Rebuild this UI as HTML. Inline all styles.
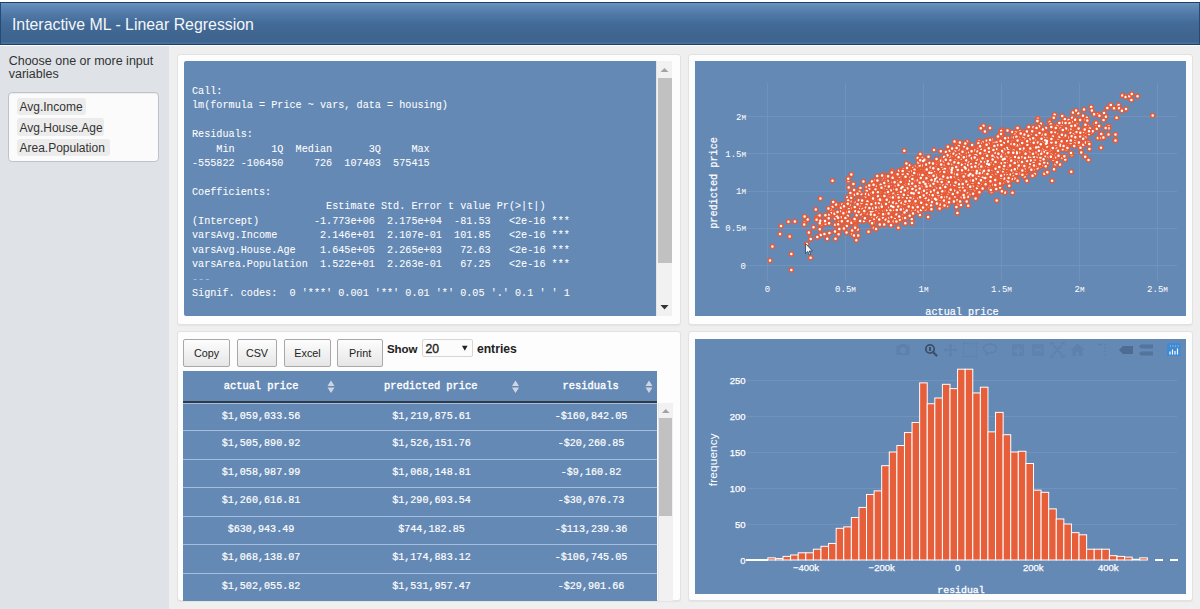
<!DOCTYPE html>
<html><head><meta charset="utf-8">
<style>
*{box-sizing:border-box;margin:0;padding:0}
html,body{width:1200px;height:609px;overflow:hidden;background:#efefef;font-family:"Liberation Sans",sans-serif}
.abs{position:absolute}
#topwhite{left:0;top:0;width:1200px;height:46px;background:#fff}
#hdr{left:0;top:2px;width:1200px;height:43px;border:1px solid #254a73;border-top-color:#1f3d63;border-bottom-color:#1c3f66;
 background:linear-gradient(#6b94c3 0px,#6089b6 3px,#5179a7 11px,#446c99 20px,#3f6591 30px,#3d638e 39px,#4a72a0 40px)}
#title{left:11.9px;top:15.6px;color:#f4f6f9;font-size:15.88px;white-space:nowrap;line-height:18px}
#side{left:0;top:46px;width:169px;height:563px;background:#dfe3e7}
#lbl{left:8.7px;top:55.1px;width:158px;font-size:12.5px;line-height:12.6px;color:#333}
#sel{left:8.3px;top:92.2px;width:151px;height:70px;background:#fbfbfb;border:1px solid #bfc3c8;border-radius:4px;box-shadow:inset 0 1px 1px rgba(0,0,0,.06)}
.pill{background:#ececec;border-radius:3px;font-size:12px;color:#333;height:17.3px;line-height:17.3px;padding-top:1.3px;padding-left:2.4px;white-space:nowrap}
.panel{background:#fdfdfd;border:1px solid #e2e2e2;border-radius:3px;box-shadow:0 1px 1px rgba(0,0,0,.05)}
#pre{left:183.6px;top:61px;width:472.4px;border-radius:2px 0 0 2px;height:255px;background:#6589b5;overflow:hidden}
#pretext{left:8.4px;top:9.5px;-webkit-text-stroke:.05px #fff;font-family:"Liberation Mono",monospace;font-size:10.16px;line-height:14.43px;color:#fff;white-space:pre}
.sb{background:#f1f1f1;border-left:1px solid #e6e6e6}
.thumb{background:#c1c1c1}
.plot{background:#6589b5;overflow:hidden}
.mono{font-family:"Liberation Mono",monospace}
.btn{height:28px;border:1px solid #a8a8a8;border-radius:2px;background:linear-gradient(#fdfdfd,#e6e6e6);font-size:10.8px;color:#222;text-align:center;line-height:27px}
.th{color:#fff;font-family:"Liberation Mono",monospace;font-size:10.4px;-webkit-text-stroke:.4px #fff;white-space:nowrap}
.row{left:183px;width:474px;height:28.5px;background:#6589b5;border-top:1px solid #a5c0df}
.cell{color:#fff;-webkit-text-stroke:.2px #fff;font-family:"Liberation Mono",monospace;font-size:10.1px;white-space:nowrap;top:8px;transform:translateX(-50%)}
</style></head><body>
<div id="topwhite" class="abs"></div>
<div id="hdr" class="abs"></div>
<div id="title" class="abs">Interactive ML - Linear Regression</div>
<div id="side" class="abs"></div>
<div id="lbl" class="abs">Choose one or more input variables</div>
<div id="sel" class="abs"></div>
<div class="abs pill" style="left:17.1px;top:97.8px;width:68.6px">Avg.Income</div>
<div class="abs pill" style="left:17.1px;top:118.4px;width:86.7px">Avg.House.Age</div>
<div class="abs pill" style="left:17.1px;top:139px;width:92.6px">Area.Population</div>

<!-- panels -->
<div class="abs panel" style="left:176.5px;top:53.8px;width:504px;height:271.2px"></div>
<div class="abs panel" style="left:688px;top:53.8px;width:505px;height:271.2px"></div>
<div class="abs panel" style="left:176.5px;top:331.4px;width:504px;height:269.8px"></div>
<div class="abs panel" style="left:688px;top:331.4px;width:505px;height:269.8px"></div>

<!-- summary pre -->
<div id="pre" class="abs"><div id="pretext" class="abs">
Call:
lm(formula = Price ~ vars, data = housing)

Residuals:
    Min      1Q  Median      3Q     Max 
-555822 -106450     726  107403  575415 

Coefficients:
                      Estimate Std. Error t value Pr(&gt;|t|)    
(Intercept)         -1.773e+06  2.175e+04  -81.53   &lt;2e-16 ***
varsAvg.Income       2.146e+01  2.107e-01  101.85   &lt;2e-16 ***
varsAvg.House.Age    1.645e+05  2.265e+03   72.63   &lt;2e-16 ***
varsArea.Population  1.522e+01  2.263e-01   67.25   &lt;2e-16 ***
<span style="opacity:.45">---</span>
Signif. codes:  0 '***' 0.001 '**' 0.01 '*' 0.05 '.' 0.1 ' ' 1
</div></div>
<div class="abs sb" style="left:656px;top:61px;width:16px;height:255px"></div>
<div class="abs thumb" style="left:658px;top:78px;width:13.5px;height:185px"></div>
<svg class="abs" style="left:656px;top:61px" width="16" height="255"><path d="M4.5 11h8l-4-4z" fill="#a3a3a3"/><path d="M4.5 244h8l-4 4.5z" fill="#333"/></svg>

<!-- scatter -->
<div class="abs plot" style="left:695px;top:61px;width:491px;height:255px"></div>
<svg class="abs" style="left:0;top:0" width="1200" height="609">
 <g stroke="#7192bb" stroke-width="1" fill="none" shape-rendering="crispEdges">
  <path d="M767.5 82.5V281M845.5 82.5V281M923.5 82.5V281M1001.5 82.5V281M1079.5 82.5V281M1157.5 82.5V281"/>
  <path d="M746 265.5H1177M746 228.5H1177M746 191H1177M746 153.5H1177M746 116.5H1177"/>
 </g>
 <defs><path id="c0" d="M959.8 161.7h0M970.9 176.1h0M964.6 171.4h0M935.4 188.2h0M934.4 167.4h0M990.3 171.9h0M1062.7 149.3h0M867.7 198.0h0M958.0 164.4h0M968.0 162.1h0M991.7 166.0h0M924.9 191.0h0M940.9 170.0h0M943.5 172.6h0M936.9 168.2h0M1087.1 130.3h0M1053.3 160.1h0M880.8 195.8h0M944.8 191.6h0M1057.6 149.8h0M971.2 166.9h0M983.1 164.7h0M975.5 157.7h0M839.0 223.9h0M907.0 192.4h0M1050.3 149.9h0M978.0 173.7h0M976.7 164.4h0M888.7 192.3h0M944.5 186.1h0M875.1 202.8h0M1055.3 154.0h0M1075.3 129.9h0M898.9 188.5h0M918.2 200.9h0M1016.9 147.1h0M944.2 183.4h0M1041.1 164.2h0M950.2 189.4h0M989.8 169.2h0M936.0 185.4h0M927.1 180.9h0M927.1 179.4h0M1011.3 153.0h0M1026.7 158.0h0M1012.0 163.8h0M947.6 173.6h0M935.6 170.9h0M981.8 177.8h0M944.3 165.1h0M916.4 203.3h0M963.9 147.3h0M1001.5 163.1h0M1000.2 161.0h0M985.1 184.9h0M906.9 195.5h0M971.8 170.2h0M979.6 153.6h0M927.1 189.9h0M945.4 184.6h0M919.7 184.9h0M938.7 191.0h0M903.0 185.8h0M990.3 168.2h0M916.5 199.9h0M1013.7 165.8h0M958.7 204.3h0M987.0 173.7h0M989.8 163.4h0M996.5 150.4h0M873.8 195.8h0M898.8 206.8h0M960.3 181.9h0M968.8 149.8h0M956.0 194.2h0M970.8 168.9h0M966.9 169.2h0M891.1 183.8h0M970.1 153.5h0M954.0 163.0h0M1060.0 164.6h0M1040.3 166.6h0M952.3 155.1h0M930.4 169.4h0"/><path id="c1" d="M976.1 161.7h0M934.2 183.5h0M927.1 208.4h0M931.7 196.6h0M1000.6 179.6h0M956.5 175.8h0M992.3 149.8h0M938.6 189.1h0M968.5 162.1h0M951.0 177.7h0M956.7 182.2h0M935.5 202.0h0M832.5 206.9h0M923.0 194.5h0M967.9 165.5h0M1071.1 137.4h0M852.1 234.2h0M863.4 181.5h0M947.2 170.2h0M977.2 164.5h0M930.5 185.0h0M920.9 177.9h0M973.9 180.0h0M1103.6 119.9h0M965.3 180.5h0M987.6 171.0h0M909.7 185.1h0M909.5 177.4h0M937.1 165.2h0M903.4 187.6h0M1061.3 125.3h0M953.8 182.9h0M911.1 183.0h0M959.9 183.2h0M965.3 178.8h0M988.2 181.2h0M906.3 189.5h0M1085.2 125.9h0M922.9 179.5h0M950.3 176.8h0M976.5 169.4h0M914.2 202.6h0M998.8 159.0h0M918.7 204.5h0M903.1 201.4h0M902.5 187.3h0M903.5 203.6h0M869.1 220.3h0M931.7 188.7h0M934.3 194.1h0M897.2 176.4h0M985.9 160.9h0M947.7 179.2h0M1005.7 159.5h0M908.1 183.5h0M909.1 198.0h0M937.6 182.8h0M998.9 179.7h0M845.5 220.8h0M968.7 165.3h0M957.7 179.6h0M872.8 210.2h0M1006.1 167.1h0M930.3 197.9h0M1011.1 153.6h0M945.3 183.8h0M954.2 161.1h0M958.6 190.8h0M959.0 172.9h0M1015.6 161.8h0M1014.0 144.3h0M980.9 170.7h0M969.2 171.4h0M998.1 160.1h0M1018.5 148.7h0M860.1 213.4h0M1084.8 134.8h0M999.8 173.9h0M1024.5 176.4h0M882.3 196.4h0M939.6 177.5h0M950.5 167.2h0M961.0 176.7h0M999.9 149.8h0"/><path id="c2" d="M944.6 174.4h0M966.7 168.2h0M953.2 161.0h0M994.4 175.3h0M955.2 173.6h0M927.8 164.2h0M962.8 163.9h0M1013.9 142.4h0M962.4 159.6h0M936.3 172.9h0M976.7 184.8h0M1026.4 150.6h0M1026.7 133.8h0M989.4 158.4h0M949.5 173.7h0M947.6 175.8h0M906.3 196.3h0M901.0 200.7h0M968.8 179.7h0M959.9 201.1h0M939.4 179.5h0M1003.2 163.5h0M881.9 195.3h0M897.6 198.5h0M984.7 177.5h0M1058.2 157.0h0M955.9 163.6h0M966.6 165.2h0M941.8 186.8h0M1025.2 156.7h0M912.3 184.3h0M1014.0 153.8h0M997.9 169.6h0M999.0 148.9h0M902.4 207.9h0M943.4 183.3h0M856.8 208.4h0M1013.7 166.6h0M937.6 187.6h0M881.8 203.3h0M918.3 197.3h0M918.1 198.8h0M931.6 188.5h0M940.2 176.0h0M883.0 190.9h0M975.4 186.0h0M961.9 162.2h0M919.5 208.0h0M918.9 186.7h0M851.7 200.0h0M926.2 208.0h0M994.7 166.4h0M962.5 178.4h0M972.4 176.2h0M879.6 195.8h0M947.1 205.9h0M965.1 167.4h0M898.0 206.9h0M909.2 195.1h0M945.4 179.9h0M879.7 216.6h0M987.3 166.4h0M872.2 208.3h0M867.4 209.7h0M905.5 179.1h0M990.7 175.3h0M929.5 190.1h0M902.9 196.9h0M895.0 198.4h0M937.8 188.6h0M969.1 179.6h0M987.3 155.4h0M928.6 188.4h0M1005.0 163.6h0M941.5 183.5h0M937.2 173.7h0M961.0 169.5h0M900.6 180.3h0M910.9 203.8h0M903.5 183.1h0M825.6 223.8h0M938.7 184.2h0M960.9 205.0h0M920.2 202.6h0"/><path id="c3" d="M910.6 193.4h0M894.3 216.0h0M849.7 223.1h0M943.1 174.9h0M964.2 173.6h0M924.7 197.8h0M866.8 213.1h0M890.8 202.6h0M1064.8 119.2h0M939.1 200.8h0M866.2 208.8h0M1083.0 115.8h0M973.6 165.5h0M909.0 196.0h0M862.0 209.2h0M1000.5 181.2h0M996.3 169.0h0M847.3 197.6h0M974.6 148.5h0M1017.8 159.4h0M863.8 209.8h0M932.9 186.7h0M1038.5 140.3h0M1012.4 145.2h0M881.5 193.0h0M1003.6 148.0h0M1029.3 149.6h0M982.3 165.4h0M931.3 174.0h0M1054.7 141.5h0M973.3 174.6h0M954.7 186.8h0M904.5 194.6h0M986.1 148.5h0M917.7 201.2h0M964.0 167.8h0M938.7 161.1h0M1015.5 151.8h0M1001.0 159.6h0M886.2 179.6h0M958.2 174.0h0M954.3 168.5h0M861.2 212.6h0M1017.9 162.6h0M1038.2 149.0h0M932.3 173.6h0M1063.4 130.0h0M919.0 167.2h0M1000.9 149.4h0M1007.3 155.5h0M953.7 159.9h0M1024.7 133.5h0M942.9 169.3h0M971.2 174.8h0M924.7 180.2h0M921.2 168.2h0M914.2 187.1h0M924.2 179.0h0M860.4 213.5h0M936.1 194.5h0M962.5 172.7h0M1010.7 156.4h0M935.5 196.9h0M994.0 175.3h0M861.7 206.0h0M922.0 201.3h0M1049.5 150.7h0M907.6 193.4h0M989.1 165.8h0M962.4 161.5h0M1013.8 168.6h0M950.7 184.7h0M956.4 166.5h0M881.8 192.2h0M936.4 161.0h0M1045.6 144.4h0M985.2 163.8h0M883.1 175.3h0M992.7 158.7h0M1011.0 171.3h0M939.6 166.8h0M965.9 175.3h0M963.3 165.3h0M984.0 168.8h0"/><path id="c4" d="M934.7 188.1h0M927.8 175.9h0M897.4 219.1h0M951.4 165.2h0M943.7 200.6h0M1047.9 135.4h0M981.1 179.7h0M1018.7 164.2h0M902.5 203.7h0M905.9 200.9h0M939.6 174.5h0M1069.8 135.7h0M1020.9 145.1h0M845.3 226.8h0M934.2 179.2h0M966.4 160.4h0M1003.2 162.1h0M906.4 186.0h0M947.9 175.7h0M1094.8 123.4h0M910.7 200.3h0M908.9 196.6h0M1059.2 144.6h0M1027.7 156.4h0M914.9 175.3h0M1041.7 144.2h0M1013.0 173.7h0M918.5 209.8h0M965.2 171.5h0M920.9 185.7h0M970.7 178.3h0M946.1 161.4h0M1059.8 138.9h0M1060.4 128.3h0M981.0 161.4h0M961.3 163.9h0M921.8 180.2h0M882.1 185.6h0M995.3 181.1h0M982.1 172.5h0M991.7 157.2h0M879.7 221.3h0M1071.6 154.9h0M981.2 169.7h0M1040.9 123.7h0M913.0 179.9h0M922.5 200.6h0M1008.4 154.9h0M866.3 207.4h0M893.1 186.4h0M999.0 176.1h0M983.7 174.5h0M898.7 187.0h0M995.7 158.6h0M1023.5 143.2h0M936.1 191.9h0M1044.2 153.4h0M983.5 163.8h0M983.8 164.1h0M921.6 186.2h0M966.5 175.6h0M1075.1 135.8h0M1024.6 156.1h0M921.1 183.7h0M904.0 209.6h0M932.1 189.5h0M1018.4 139.1h0M934.0 185.0h0M980.8 148.9h0M881.5 198.0h0M848.9 206.4h0M961.2 178.1h0M947.0 178.9h0M951.5 171.0h0M1079.7 145.3h0M1076.8 130.4h0M854.8 194.8h0M948.7 172.6h0M940.6 165.7h0M869.5 193.4h0M973.4 153.5h0M929.9 186.6h0M915.4 181.2h0M1043.9 140.6h0"/><path id="c5" d="M905.1 195.1h0M948.9 173.7h0M979.7 178.0h0M960.9 189.0h0M1023.3 145.8h0M987.6 161.7h0M852.5 209.8h0M978.3 153.5h0M873.9 191.0h0M944.8 163.0h0M926.7 190.7h0M963.2 168.9h0M1068.7 120.1h0M939.3 195.2h0M1003.7 146.2h0M965.3 161.7h0M1000.3 166.2h0M1047.3 142.2h0M1022.3 161.4h0M1031.1 155.9h0M958.6 152.1h0M969.5 178.4h0M961.3 184.6h0M1013.8 164.0h0M907.7 195.2h0M946.0 173.9h0M959.7 182.5h0M967.1 184.1h0M842.1 213.8h0M864.6 199.3h0M1037.4 153.2h0M1071.6 135.7h0M941.5 179.3h0M1035.3 154.7h0M929.2 195.5h0M909.2 175.8h0M986.9 179.7h0M953.2 170.9h0M1030.5 134.8h0M981.3 189.4h0M962.2 168.0h0M902.1 185.9h0M940.4 188.0h0M886.3 199.8h0M987.8 173.2h0M985.2 169.0h0M1023.9 131.7h0M936.2 164.4h0M925.6 175.4h0M928.4 181.5h0M994.0 161.3h0M967.7 172.8h0M1031.4 148.4h0M1010.5 151.0h0M1016.5 150.8h0M989.0 165.7h0M1078.2 113.3h0M1049.4 120.9h0M963.1 171.3h0M999.1 175.4h0M898.0 173.0h0M1054.6 139.4h0M915.3 191.2h0M979.4 167.5h0M868.0 208.9h0M1030.6 136.5h0M954.5 179.2h0M974.4 171.4h0M1000.0 168.6h0M976.5 154.3h0M868.6 203.2h0M1028.9 137.6h0M974.4 184.0h0M891.8 209.3h0M911.3 178.6h0M950.5 176.4h0M925.0 195.5h0M930.5 195.8h0M1088.5 126.8h0M1012.3 132.0h0M979.2 141.6h0M1018.6 171.7h0M1011.0 175.8h0M979.6 148.6h0"/><path id="c6" d="M963.0 172.3h0M1009.2 151.1h0M842.5 222.3h0M1024.5 133.1h0M958.5 174.2h0M963.4 174.6h0M882.1 205.2h0M902.2 194.9h0M904.0 180.1h0M929.3 164.7h0M912.1 189.8h0M971.7 181.1h0M960.9 177.0h0M877.2 175.9h0M990.3 186.8h0M1044.9 149.7h0M955.8 171.1h0M901.5 199.1h0M841.9 218.2h0M967.4 183.4h0M1008.6 178.4h0M1002.1 172.9h0M947.6 189.4h0M967.9 193.9h0M1000.8 155.9h0M999.2 159.5h0M962.5 163.5h0M1052.1 141.5h0M987.0 141.0h0M1024.2 159.7h0M934.6 176.4h0M942.7 175.9h0M956.5 185.0h0M930.0 201.8h0M934.9 194.2h0M1026.5 173.3h0M878.6 190.8h0M915.0 196.5h0M866.5 199.9h0M946.5 178.4h0M934.5 194.8h0M991.5 168.4h0M926.2 193.5h0M979.6 159.1h0M972.1 161.8h0M905.0 203.7h0M1035.6 161.1h0M916.2 186.1h0M1045.2 163.2h0M918.7 175.4h0M958.5 149.4h0M969.4 176.6h0M980.2 179.9h0M920.6 180.1h0M934.6 189.1h0M1055.1 154.3h0M938.2 186.1h0M909.0 171.5h0M1010.0 158.4h0M956.8 165.0h0M925.3 190.8h0M998.0 161.4h0M963.4 163.9h0M980.3 183.5h0M884.1 193.8h0M906.2 184.3h0M882.8 215.4h0M971.8 165.0h0M1101.2 133.4h0M1006.8 174.7h0M841.7 206.8h0M1006.5 141.5h0M1035.6 152.4h0M963.4 154.6h0M929.5 191.2h0M1057.3 134.0h0M919.0 186.5h0M896.5 203.7h0M980.9 162.4h0M973.1 161.8h0M961.8 164.6h0M1002.4 163.6h0M921.6 189.0h0M871.2 210.3h0"/><path id="c7" d="M1033.5 143.6h0M1022.8 163.8h0M1006.3 152.4h0M997.2 145.3h0M838.5 220.2h0M940.6 190.3h0M1006.8 140.0h0M932.1 177.2h0M886.2 198.7h0M964.7 169.7h0M835.5 238.7h0M1044.1 130.1h0M860.4 187.9h0M924.0 192.1h0M955.4 176.7h0M887.0 198.1h0M984.8 167.7h0M995.6 156.4h0M959.7 185.5h0M979.2 147.4h0M1014.2 153.0h0M924.8 192.4h0M870.5 196.2h0M895.7 208.3h0M1053.7 128.0h0M1108.7 126.3h0M953.3 179.4h0M977.9 160.8h0M881.5 224.3h0M1020.7 155.6h0M1015.2 135.4h0M889.4 209.3h0M1010.6 166.1h0M954.8 180.9h0M1051.6 146.8h0M883.4 200.7h0M1038.5 163.0h0M927.4 186.1h0M938.0 182.8h0M895.2 196.8h0M899.9 218.4h0M955.8 185.8h0M978.3 150.9h0M949.6 169.9h0M968.8 170.6h0M1064.4 144.2h0M1042.2 156.4h0M885.9 182.6h0M810.6 257.8h0M999.7 149.3h0M1011.1 179.9h0M1034.1 151.5h0M1096.1 122.8h0M986.8 154.2h0M1026.0 148.0h0M861.7 202.6h0M981.7 156.4h0M872.7 196.6h0M979.3 167.8h0M966.5 167.2h0M912.5 168.9h0M946.6 183.6h0M933.3 197.3h0M1026.0 171.6h0M1022.0 169.5h0M860.5 207.2h0M916.2 203.7h0M959.9 184.8h0M999.8 164.9h0M929.1 181.6h0M911.4 183.2h0M881.5 206.5h0M977.0 169.0h0M919.8 189.6h0M958.9 162.5h0M927.5 197.5h0M955.2 183.4h0M936.9 184.5h0M949.7 170.8h0M949.6 192.8h0M912.7 179.7h0M1026.8 180.7h0M1016.7 155.3h0M966.9 169.3h0"/><path id="c8" d="M932.6 178.4h0M886.8 206.8h0M863.5 216.2h0M980.8 171.3h0M921.6 194.9h0M898.6 189.8h0M998.6 177.5h0M934.4 187.2h0M1000.8 157.7h0M893.4 197.4h0M941.3 182.6h0M952.8 185.0h0M910.5 171.3h0M980.2 167.6h0M910.8 194.8h0M1017.8 151.0h0M995.7 168.2h0M884.2 215.0h0M920.3 182.1h0M993.7 146.7h0M955.3 170.5h0M977.9 185.7h0M1008.3 149.7h0M994.2 155.3h0M1006.6 168.3h0M892.3 205.6h0M926.9 194.2h0M923.7 197.6h0M923.3 194.0h0M1004.9 157.0h0M918.8 199.9h0M920.4 197.7h0M1028.8 145.8h0M889.1 196.4h0M1007.0 150.0h0M1024.2 145.1h0M974.7 168.6h0M1012.9 161.3h0M936.9 178.4h0M880.3 200.0h0M968.9 172.1h0M980.8 165.1h0M873.8 192.3h0M914.6 170.8h0M921.8 194.7h0M927.5 204.4h0M914.4 192.7h0M894.9 202.5h0M921.5 190.7h0M955.9 165.5h0M964.2 187.3h0M1004.7 150.8h0M918.1 201.5h0M1104.0 113.0h0M941.8 167.0h0M958.7 190.4h0M946.8 159.0h0M1013.2 149.0h0M924.7 184.1h0M906.2 203.1h0M1009.7 142.6h0M931.0 202.1h0M832.5 180.8h0M1017.2 160.8h0M948.7 194.4h0M982.1 166.8h0M991.6 163.2h0M951.3 167.4h0M983.1 160.4h0M1021.4 159.6h0M1017.1 163.3h0M958.1 183.2h0M866.0 214.8h0M1031.4 169.1h0M898.3 204.9h0M911.8 171.8h0M976.0 153.2h0M901.6 206.8h0M938.7 173.7h0M987.1 163.6h0M1040.6 158.0h0M991.7 167.3h0M854.0 235.4h0M1017.3 141.1h0"/><path id="c9" d="M925.5 188.8h0M915.9 195.2h0M1001.4 156.9h0M928.7 189.6h0M851.3 174.5h0M956.0 180.6h0M951.4 197.3h0M957.0 200.2h0M1004.9 192.6h0M972.7 184.0h0M1009.1 159.1h0M905.9 183.2h0M893.2 187.6h0M976.9 175.8h0M994.5 165.6h0M957.0 157.1h0M955.4 180.1h0M976.2 183.1h0M967.0 154.3h0M926.0 187.6h0M949.3 175.8h0M954.5 172.1h0M1108.5 134.4h0M920.3 154.0h0M940.5 184.8h0M1024.5 161.5h0M1069.1 139.0h0M956.0 182.3h0M937.0 201.9h0M1023.4 152.2h0M1021.5 154.0h0M942.2 189.1h0M898.5 191.5h0M973.4 160.9h0M1003.9 163.6h0M1012.2 143.5h0M946.0 192.8h0M915.4 202.6h0M969.2 168.5h0M941.6 198.7h0M978.7 175.9h0M855.7 202.8h0M885.2 213.5h0M983.6 164.4h0M1044.4 131.7h0M1069.3 123.0h0M1070.7 129.0h0M956.0 169.9h0M997.6 156.4h0M960.5 189.1h0M1009.0 143.0h0M904.5 185.9h0M952.1 174.4h0M954.8 194.8h0M1043.0 147.3h0M962.0 172.2h0M1029.2 157.6h0M1043.6 165.6h0M978.8 151.2h0M925.5 183.6h0M820.5 227.7h0M943.5 170.6h0M976.7 170.2h0M928.0 177.9h0M971.7 168.0h0M896.8 214.0h0M920.0 177.6h0M994.4 181.5h0M1045.7 141.4h0M845.5 215.5h0M990.9 160.0h0M964.3 165.9h0M903.8 177.8h0M985.2 149.8h0M840.3 205.2h0M833.2 211.7h0M915.6 167.8h0M960.4 186.8h0M1015.5 136.1h0M983.7 165.8h0M921.5 185.1h0M915.9 198.2h0M901.2 185.3h0M944.3 199.1h0"/><path id="c10" d="M986.7 164.3h0M995.3 159.3h0M913.1 200.2h0M883.6 200.3h0M930.5 204.0h0M1007.8 146.5h0M865.5 208.4h0M930.2 177.9h0M906.8 198.2h0M967.6 167.5h0M980.7 180.8h0M966.1 170.8h0M932.1 162.9h0M1047.1 143.4h0M927.8 206.5h0M1037.3 143.0h0M1016.3 147.6h0M942.1 171.3h0M971.8 171.7h0M901.4 178.2h0M913.9 200.0h0M1115.2 140.4h0M999.2 176.5h0M820.8 235.0h0M1040.4 160.2h0M1053.2 138.6h0M960.1 168.7h0M908.0 186.4h0M896.0 199.0h0M911.9 199.2h0M917.7 192.8h0M1078.4 131.9h0M940.6 203.9h0M968.0 173.7h0M988.8 168.7h0M954.6 157.7h0M920.6 196.7h0M952.5 189.5h0M934.8 168.1h0M879.5 189.7h0M945.5 175.2h0M916.5 195.3h0M932.2 175.1h0M937.4 186.6h0M996.0 160.8h0M899.4 193.7h0M966.1 165.8h0M947.8 161.1h0M868.8 208.5h0M867.2 195.7h0M882.4 197.7h0M924.7 193.4h0M1008.3 157.1h0M945.6 184.2h0M986.3 164.7h0M955.1 177.5h0M983.6 165.2h0M941.2 189.7h0M938.2 168.6h0M968.7 158.0h0M940.8 189.8h0M913.9 183.2h0M983.5 152.5h0M950.5 172.1h0M1023.5 164.0h0M935.5 174.8h0M1008.8 141.3h0M971.2 169.9h0M885.6 188.8h0M857.7 229.4h0M957.8 162.5h0M998.1 158.0h0M870.0 199.1h0M912.0 172.7h0M1014.6 160.1h0M1009.2 151.9h0M1052.2 143.3h0M955.8 177.3h0M994.7 154.6h0M1024.2 149.2h0M997.3 174.7h0M950.9 155.4h0M1014.3 150.3h0M770.0 260.5h0"/><path id="c11" d="M979.3 163.2h0M850.0 209.7h0M1002.6 135.1h0M1012.0 145.8h0M1033.1 160.1h0M938.1 167.7h0M939.2 180.9h0M914.1 204.4h0M883.1 179.8h0M951.9 168.1h0M926.6 204.5h0M984.6 176.6h0M964.1 163.2h0M948.7 180.4h0M895.3 187.1h0M970.0 169.8h0M835.3 204.3h0M956.4 191.8h0M909.5 179.7h0M962.6 158.1h0M981.8 168.8h0M920.7 164.7h0M1029.3 137.8h0M1115.5 134.4h0M876.3 189.4h0M982.9 165.4h0M895.7 192.9h0M975.0 190.3h0M884.2 202.0h0M950.4 158.5h0M939.7 189.5h0M971.1 173.7h0M882.9 199.1h0M1108.6 128.2h0M986.4 155.6h0M917.5 198.8h0M916.3 174.5h0M854.6 209.6h0M931.4 182.4h0M1009.2 159.1h0M917.3 171.7h0M929.1 186.8h0M931.1 181.5h0M873.2 208.2h0M987.6 174.2h0M993.1 170.8h0M945.7 179.8h0M1022.2 142.2h0M1102.8 137.7h0M954.9 175.1h0M873.0 208.7h0M977.9 169.1h0M946.2 184.7h0M921.6 188.3h0M934.8 195.1h0M949.4 167.7h0M964.0 181.4h0M837.8 218.3h0M993.2 169.3h0M904.3 216.2h0M868.3 190.4h0M944.6 189.3h0M898.7 183.2h0M888.6 199.0h0M1029.0 143.9h0M1009.9 153.1h0M979.6 169.7h0M976.1 164.7h0M896.8 210.3h0M883.2 189.6h0M966.9 175.5h0M946.1 185.6h0M913.5 179.9h0M955.6 161.2h0M913.3 198.2h0M935.9 174.5h0M898.2 187.7h0M998.2 162.3h0M897.3 207.8h0M935.2 184.0h0M942.3 169.0h0M1007.9 152.3h0M951.5 173.5h0M772.4 246.4h0"/><path id="c12" d="M965.5 190.2h0M934.2 181.0h0M966.9 165.5h0M1012.9 160.7h0M962.3 177.4h0M947.2 193.7h0M922.3 185.2h0M942.9 167.7h0M940.2 200.6h0M935.5 198.8h0M958.9 169.9h0M914.0 178.0h0M849.4 220.8h0M875.3 206.8h0M915.5 198.0h0M922.6 191.7h0M994.6 151.8h0M991.0 146.9h0M924.4 195.6h0M907.5 203.5h0M946.1 183.7h0M1035.9 130.3h0M989.5 182.1h0M998.7 158.0h0M1042.3 144.2h0M1001.8 142.5h0M932.7 176.3h0M1008.3 179.6h0M904.3 150.7h0M883.5 205.0h0M1064.1 135.3h0M1011.2 160.6h0M967.3 158.1h0M965.1 156.1h0M1039.9 142.6h0M947.2 182.8h0M897.5 201.4h0M951.0 172.0h0M1002.8 177.0h0M1023.2 154.6h0M989.6 147.7h0M961.5 165.7h0M963.7 176.9h0M898.5 187.8h0M980.4 170.6h0M893.6 205.7h0M947.0 163.9h0M925.0 190.8h0M817.2 217.0h0M878.4 213.6h0M1002.4 159.9h0M925.4 184.3h0M883.3 208.3h0M879.9 207.4h0M1003.5 146.9h0M940.9 191.9h0M947.4 167.1h0M1039.6 149.4h0M977.1 164.0h0M890.3 199.1h0M935.9 183.9h0M819.6 215.6h0M991.3 192.0h0M1052.1 180.7h0M931.9 197.0h0M914.6 201.6h0M975.8 174.3h0M976.7 177.6h0M939.0 178.5h0M933.0 181.0h0M1001.6 163.2h0M922.8 179.6h0M987.8 172.7h0M890.0 190.8h0M926.7 186.2h0M1085.3 119.5h0M932.1 166.7h0M932.0 175.6h0M969.2 175.2h0M944.7 172.6h0M892.1 209.3h0M937.3 183.3h0M922.7 198.1h0M791.3 270.0h0"/><path id="c13" d="M908.5 199.7h0M954.3 155.8h0M875.1 180.4h0M951.9 189.1h0M895.1 200.0h0M947.5 183.9h0M994.8 154.1h0M903.1 210.3h0M1036.3 154.6h0M990.1 157.8h0M1001.4 169.3h0M869.0 204.2h0M978.6 155.2h0M918.1 201.5h0M1039.4 149.8h0M975.0 185.4h0M902.7 184.7h0M1056.4 144.2h0M1003.3 155.3h0M956.3 144.8h0M993.1 174.9h0M956.8 163.3h0M905.4 191.1h0M1059.8 136.1h0M923.6 191.8h0M1030.2 159.4h0M1000.8 169.8h0M913.5 192.2h0M959.0 170.7h0M881.6 192.1h0M977.1 162.6h0M904.5 189.5h0M954.1 183.4h0M844.4 220.2h0M958.6 169.9h0M985.7 177.4h0M929.7 191.7h0M964.6 192.7h0M969.5 174.8h0M1115.5 140.5h0M1096.4 126.6h0M927.4 177.5h0M1021.5 148.8h0M1057.1 125.0h0M1017.4 144.3h0M885.8 192.8h0M992.8 158.8h0M1018.0 144.9h0M1038.8 126.3h0M976.6 160.5h0M883.1 209.8h0M939.0 185.2h0M907.4 198.8h0M1025.2 140.9h0M917.1 193.5h0M1015.0 162.5h0M966.6 175.4h0M948.8 192.5h0M905.3 196.0h0M941.6 162.7h0M1006.3 157.2h0M969.5 166.8h0M915.9 192.0h0M984.0 172.0h0M1032.9 170.7h0M1008.1 156.1h0M995.7 144.4h0M929.6 202.2h0M923.6 188.5h0M960.7 184.9h0M943.1 191.9h0M933.1 176.6h0M979.1 171.6h0M958.9 183.7h0M936.0 176.2h0M974.7 160.2h0M970.0 173.1h0M883.6 211.9h0M883.2 196.3h0M943.8 183.7h0M1036.1 150.2h0M946.3 169.6h0M980.4 174.9h0M791.3 254.0h0"/><path id="c14" d="M958.1 183.5h0M1028.9 136.3h0M1028.5 162.3h0M989.5 160.4h0M907.9 192.3h0M965.7 175.7h0M1084.0 109.6h0M888.7 218.6h0M804.4 222.7h0M868.0 199.3h0M807.7 219.4h0M880.6 198.6h0M876.5 198.3h0M909.1 206.7h0M971.8 175.4h0M1000.2 166.8h0M1012.5 192.7h0M970.4 167.0h0M978.9 141.2h0M965.0 182.2h0M1056.2 142.4h0M952.7 179.3h0M1033.3 159.2h0M909.5 199.0h0M806.6 244.0h0M922.8 192.2h0M996.0 165.3h0M947.9 175.5h0M992.2 143.7h0M1013.7 154.2h0M965.7 188.2h0M979.1 165.6h0M940.5 178.3h0M922.7 175.2h0M1061.9 130.1h0M1000.6 151.9h0M960.0 180.7h0M920.9 188.8h0M895.5 182.7h0M1008.1 154.0h0M943.0 168.9h0M1011.1 158.1h0M933.6 174.7h0M876.3 198.4h0M987.5 177.7h0M968.5 155.4h0M962.5 158.4h0M973.9 176.8h0M1045.5 146.7h0M979.9 182.5h0M943.1 178.0h0M907.1 191.7h0M965.2 149.9h0M963.0 164.8h0M908.2 199.0h0M934.1 185.0h0M904.6 204.2h0M1021.6 163.5h0M959.8 175.3h0M1025.8 169.3h0M925.0 188.9h0M958.1 174.2h0M904.4 176.5h0M1036.5 157.3h0M980.9 176.2h0M922.2 189.2h0M987.1 170.4h0M902.9 186.3h0M997.9 164.9h0M955.3 190.7h0M981.5 157.9h0M860.4 206.0h0M924.1 174.5h0M986.7 154.3h0M902.4 188.2h0M966.9 168.4h0M887.9 207.5h0M884.2 177.4h0M915.4 197.0h0M1061.4 136.7h0M819.8 229.2h0M927.4 192.8h0M902.1 200.1h0M781.0 226.0h0"/><path id="c15" d="M998.0 163.6h0M997.7 169.3h0M1039.1 140.1h0M1002.7 182.8h0M1022.0 165.1h0M872.0 216.6h0M971.6 174.0h0M957.0 171.6h0M988.7 158.1h0M985.0 160.8h0M952.8 181.1h0M996.3 156.9h0M976.1 164.1h0M892.6 204.7h0M1023.5 171.1h0M961.7 172.3h0M947.1 188.9h0M966.5 170.2h0M922.2 201.5h0M1088.6 133.5h0M957.9 179.2h0M999.4 167.9h0M891.7 216.9h0M1040.5 147.0h0M1105.7 128.0h0M982.7 178.1h0M951.9 179.8h0M1022.3 158.7h0M990.8 149.6h0M922.7 173.3h0M1083.2 144.8h0M996.7 145.9h0M922.0 203.0h0M965.9 162.6h0M907.3 203.0h0M975.5 183.8h0M949.9 181.3h0M920.0 182.7h0M1033.2 144.6h0M927.0 186.9h0M978.2 151.4h0M956.5 183.9h0M986.8 171.2h0M972.0 176.1h0M1000.7 146.1h0M997.0 175.1h0M950.0 147.4h0M959.4 189.9h0M1010.2 165.4h0M958.7 164.4h0M954.3 159.3h0M945.3 186.4h0M978.6 170.4h0M976.2 169.5h0M879.8 205.3h0M952.7 154.1h0M996.9 147.7h0M957.3 184.0h0M962.7 175.9h0M970.2 172.8h0M967.3 185.3h0M1101.0 147.8h0M960.1 201.4h0M942.1 184.2h0M959.9 157.9h0M1041.8 152.9h0M912.6 173.9h0M986.7 173.0h0M942.2 178.5h0M956.0 185.2h0M967.4 150.3h0M956.8 142.8h0M971.7 185.3h0M971.1 149.4h0M897.3 176.8h0M857.0 209.6h0M988.3 152.0h0M943.5 166.7h0M885.6 200.7h0M1009.6 164.3h0M911.3 194.7h0M1023.0 155.0h0M963.9 166.6h0M780.0 234.0h0"/><path id="c16" d="M885.7 201.8h0M941.7 187.2h0M956.1 185.8h0M1005.5 157.3h0M968.4 165.2h0M946.7 191.0h0M916.8 194.6h0M1008.3 153.2h0M900.5 175.7h0M973.1 182.3h0M989.6 157.3h0M917.9 188.3h0M953.7 174.5h0M983.7 162.8h0M933.3 187.6h0M986.6 167.6h0M910.7 193.4h0M906.1 186.5h0M1072.0 122.1h0M912.8 201.4h0M877.2 207.7h0M1008.9 144.6h0M948.1 177.3h0M1047.2 163.4h0M1046.6 134.6h0M910.8 175.6h0M921.8 187.3h0M931.7 208.9h0M904.9 197.4h0M1085.2 156.8h0M979.6 154.7h0M1058.9 143.6h0M938.4 172.5h0M890.5 212.1h0M945.6 176.8h0M1014.3 143.3h0M881.8 184.7h0M1063.6 139.2h0M1014.6 161.6h0M911.7 176.6h0M980.5 167.8h0M960.6 184.4h0M992.8 166.1h0M993.3 160.1h0M895.3 188.5h0M889.5 203.6h0M1030.4 148.5h0M849.1 205.3h0M947.5 187.7h0M1072.2 117.7h0M932.8 186.9h0M983.0 174.0h0M954.5 177.8h0M1061.3 138.7h0M973.9 178.3h0M959.7 189.7h0M920.4 177.5h0M939.0 169.8h0M942.7 186.7h0M1040.1 163.2h0M913.2 194.1h0M1001.5 173.9h0M922.2 178.4h0M846.8 225.9h0M984.0 176.1h0M1032.7 161.2h0M941.7 177.8h0M982.6 158.1h0M1055.5 164.3h0M999.5 145.8h0M839.3 229.1h0M925.3 170.4h0M915.5 184.4h0M850.5 201.1h0M965.3 162.6h0M1039.1 165.2h0M991.7 156.8h0M1041.9 135.8h0M883.9 204.3h0M906.3 189.9h0M982.1 160.7h0M1000.9 163.7h0M837.7 225.6h0M1122.3 95.5h0"/><path id="c17" d="M934.5 185.3h0M939.4 161.6h0M944.6 172.6h0M1010.4 144.3h0M962.3 178.7h0M912.6 188.9h0M895.2 215.3h0M875.5 201.1h0M1017.0 174.7h0M975.3 162.9h0M997.3 165.4h0M951.9 181.0h0M942.4 164.8h0M924.2 162.7h0M1011.4 177.1h0M931.0 182.4h0M980.3 164.4h0M991.8 165.7h0M1086.9 117.8h0M953.0 174.9h0M912.3 182.3h0M1029.5 149.4h0M975.0 171.8h0M1045.3 149.6h0M902.9 196.9h0M921.6 200.8h0M961.0 197.0h0M970.3 170.5h0M916.1 183.5h0M963.8 150.4h0M914.7 186.0h0M921.3 198.5h0M918.6 200.4h0M911.9 187.4h0M883.8 206.7h0M929.0 174.4h0M945.1 192.4h0M893.1 208.3h0M928.1 179.2h0M926.9 199.6h0M818.4 219.4h0M960.4 180.7h0M900.0 192.4h0M994.9 159.8h0M987.8 167.7h0M1024.9 171.0h0M919.9 214.9h0M888.7 182.5h0M979.4 145.7h0M988.8 169.9h0M934.7 180.6h0M1014.5 155.0h0M1015.0 145.1h0M1097.9 114.3h0M956.8 177.5h0M965.6 168.9h0M989.1 173.8h0M934.8 177.9h0M1009.0 172.5h0M952.4 177.7h0M1066.5 149.5h0M933.2 190.0h0M1085.9 142.6h0M1044.0 151.3h0M881.2 200.9h0M933.7 190.7h0M1088.5 128.8h0M947.6 170.0h0M1043.4 143.6h0M933.7 184.2h0M938.5 172.8h0M983.8 156.8h0M879.0 199.6h0M938.2 163.2h0M1088.5 159.9h0M936.5 178.7h0M940.8 181.8h0M1003.9 165.6h0M919.2 194.4h0M938.9 168.9h0M938.6 186.7h0M958.2 145.6h0M934.8 165.0h0M1125.6 97.1h0"/><path id="c18" d="M855.0 218.7h0M945.9 182.1h0M950.9 169.4h0M934.6 179.1h0M956.7 190.3h0M1008.4 160.3h0M956.6 172.5h0M959.9 187.6h0M900.3 193.5h0M980.8 183.8h0M1053.3 159.7h0M971.4 165.1h0M955.7 169.4h0M850.8 198.6h0M926.6 195.4h0M842.2 204.6h0M909.5 208.3h0M946.1 182.0h0M879.2 221.1h0M950.6 191.2h0M879.4 212.7h0M977.8 162.4h0M1008.3 142.6h0M958.5 165.2h0M969.0 176.2h0M924.9 177.6h0M864.9 208.6h0M902.1 208.2h0M909.0 172.8h0M924.4 188.6h0M1000.1 155.3h0M992.9 163.6h0M988.8 178.5h0M939.6 187.3h0M940.8 169.6h0M972.6 164.8h0M910.5 204.6h0M901.8 183.0h0M1005.5 158.8h0M949.9 177.1h0M966.5 163.8h0M998.7 154.5h0M972.3 180.3h0M892.2 196.3h0M1080.1 119.9h0M915.8 181.7h0M902.2 198.2h0M1000.5 151.2h0M910.3 191.1h0M992.5 152.9h0M1036.4 135.1h0M960.2 184.9h0M1014.4 151.1h0M910.8 193.9h0M955.4 161.7h0M950.3 184.1h0M966.8 159.2h0M1040.8 150.7h0M1054.0 169.3h0M942.6 206.3h0M1010.0 174.6h0M990.8 146.1h0M874.1 208.2h0M964.8 180.3h0M916.4 186.3h0M947.9 189.0h0M893.2 199.2h0M936.8 182.2h0M1002.1 158.8h0M890.1 201.3h0M1034.5 139.3h0M901.6 182.0h0M879.8 205.8h0M984.6 173.9h0M997.0 165.6h0M947.6 180.9h0M1062.1 122.8h0M921.7 166.4h0M903.0 184.3h0M918.4 192.5h0M999.6 157.5h0M947.0 176.8h0M923.9 181.1h0M1129.3 96.3h0"/><path id="c19" d="M888.7 190.2h0M1043.6 130.6h0M906.0 209.7h0M1043.1 137.7h0M961.8 182.6h0M917.3 206.7h0M950.0 167.9h0M923.9 176.2h0M944.0 169.8h0M923.7 169.6h0M1022.2 154.3h0M993.8 167.3h0M930.0 191.8h0M998.1 140.9h0M951.0 180.2h0M1009.3 152.3h0M909.4 174.4h0M1005.5 159.5h0M976.3 183.8h0M983.8 165.6h0M893.8 191.2h0M926.6 193.7h0M982.6 142.0h0M893.5 178.7h0M947.9 171.5h0M951.6 161.3h0M886.0 213.8h0M913.6 182.5h0M984.5 164.1h0M1003.6 173.5h0M894.6 201.8h0M976.4 152.9h0M1043.2 150.2h0M978.5 178.6h0M988.2 156.1h0M873.3 227.2h0M968.5 165.3h0M915.1 203.3h0M919.2 182.1h0M1013.0 167.4h0M920.8 188.5h0M933.7 177.2h0M907.8 189.6h0M942.0 187.8h0M931.1 165.5h0M966.9 170.1h0M1003.4 171.1h0M1036.7 162.4h0M1004.3 152.5h0M967.5 166.4h0M820.4 198.5h0M1073.9 131.2h0M977.5 156.6h0M1017.8 157.9h0M937.1 173.0h0M1014.7 152.4h0M1020.0 152.0h0M1038.7 150.8h0M939.4 178.9h0M883.0 217.7h0M1021.8 157.1h0M892.2 206.5h0M1000.4 158.4h0M967.0 141.8h0M953.7 187.2h0M913.9 184.7h0M933.6 179.8h0M1085.2 132.7h0M938.4 197.4h0M891.2 191.8h0M937.9 187.4h0M934.0 150.1h0M909.8 189.3h0M973.4 157.8h0M997.6 183.0h0M835.0 218.4h0M961.4 170.0h0M1009.1 160.5h0M986.4 168.6h0M958.2 166.2h0M952.8 186.9h0M983.2 188.0h0M989.4 188.8h0M1131.8 93.9h0"/><path id="c20" d="M858.3 204.7h0M936.1 164.0h0M1020.2 166.5h0M891.0 191.5h0M1004.0 163.7h0M991.5 169.6h0M896.3 198.2h0M905.9 208.4h0M876.7 216.5h0M945.4 177.4h0M976.9 172.1h0M941.2 179.6h0M926.0 180.0h0M953.6 170.7h0M1096.6 128.2h0M998.2 157.8h0M873.4 198.9h0M957.3 162.4h0M1097.9 138.1h0M1017.3 142.3h0M1031.6 157.0h0M930.1 172.7h0M981.0 169.8h0M949.9 179.9h0M965.3 186.4h0M967.9 173.3h0M1004.9 144.0h0M930.9 185.0h0M847.5 209.4h0M1058.9 140.0h0M1021.8 158.0h0M903.4 199.4h0M853.4 184.1h0M950.6 197.7h0M1039.6 159.3h0M1001.7 168.0h0M1062.4 157.9h0M1025.7 146.0h0M1021.7 171.9h0M993.4 159.5h0M1035.9 155.1h0M1021.5 150.8h0M1018.3 155.6h0M967.4 198.0h0M952.6 170.3h0M980.6 143.4h0M998.4 160.3h0M971.1 160.8h0M898.0 181.1h0M949.1 170.3h0M1008.4 164.0h0M955.5 177.3h0M961.2 186.6h0M994.0 152.7h0M1038.9 132.3h0M959.2 167.2h0M958.8 145.6h0M842.0 210.3h0M940.4 168.1h0M928.0 190.9h0M886.6 179.2h0M926.5 189.4h0M1014.1 177.1h0M962.7 165.7h0M993.3 151.2h0M970.7 166.8h0M1018.4 160.0h0M917.9 177.4h0M993.7 164.2h0M1076.0 135.5h0M951.8 180.7h0M904.1 180.3h0M1035.1 160.3h0M1020.4 143.1h0M873.6 206.5h0M1007.5 130.6h0M972.4 188.8h0M893.1 175.1h0M1001.3 171.5h0M969.2 180.0h0M933.3 166.3h0M1005.7 149.0h0M1007.9 138.1h0M1131.4 100.0h0"/><path id="c21" d="M946.7 196.6h0M943.0 185.6h0M929.8 197.0h0M1007.1 150.2h0M990.1 154.6h0M1043.6 140.4h0M966.1 158.9h0M1006.7 163.7h0M905.9 192.6h0M994.8 175.4h0M976.3 161.3h0M987.2 172.5h0M867.0 196.9h0M979.3 168.4h0M1001.9 159.1h0M967.9 163.6h0M958.2 180.9h0M1055.6 128.7h0M1002.9 148.1h0M932.7 180.2h0M972.2 165.2h0M987.8 174.2h0M917.8 177.4h0M838.4 218.1h0M878.0 201.3h0M985.2 158.0h0M932.6 166.3h0M1079.5 131.4h0M1027.9 146.0h0M986.5 140.6h0M1026.1 147.3h0M958.6 174.4h0M953.3 183.3h0M910.7 207.9h0M923.2 172.0h0M968.1 163.5h0M994.1 167.1h0M1075.4 118.9h0M947.7 189.1h0M992.1 176.2h0M945.7 187.8h0M985.0 151.5h0M984.8 173.0h0M1003.8 165.1h0M1008.8 156.0h0M992.4 164.5h0M1019.9 153.0h0M1001.7 152.7h0M944.6 167.2h0M1012.9 171.2h0M1086.1 128.4h0M1014.9 162.1h0M945.8 190.2h0M981.7 161.5h0M936.4 165.8h0M969.3 169.3h0M1016.0 137.1h0M908.1 198.8h0M835.9 225.3h0M1038.7 146.7h0M899.1 176.9h0M856.8 221.1h0M850.7 208.6h0M995.2 164.9h0M939.2 179.5h0M1023.0 149.8h0M950.9 184.9h0M947.7 174.3h0M1004.4 142.5h0M830.2 215.0h0M926.3 196.5h0M899.3 201.7h0M883.3 196.7h0M885.9 214.7h0M955.1 168.2h0M1011.0 177.0h0M904.0 187.9h0M1013.0 143.4h0M944.0 186.4h0M1084.1 135.9h0M1077.5 141.3h0M1001.7 129.9h0M912.6 187.4h0M1137.5 96.3h0"/><path id="c22" d="M889.9 197.1h0M979.1 170.5h0M956.9 191.7h0M986.9 163.5h0M971.6 164.8h0M942.4 193.4h0M896.3 195.0h0M931.2 192.5h0M1036.0 127.7h0M983.4 151.3h0M1003.0 164.7h0M910.7 207.1h0M958.1 182.8h0M965.5 186.8h0M932.1 184.5h0M963.5 170.3h0M987.1 162.6h0M850.5 195.5h0M971.9 174.0h0M914.5 191.6h0M876.0 201.3h0M991.7 162.8h0M888.7 186.9h0M866.0 201.0h0M922.2 180.5h0M879.8 224.6h0M980.9 148.8h0M937.2 174.8h0M933.0 199.8h0M892.7 191.2h0M928.1 190.6h0M945.2 183.3h0M936.7 196.0h0M1003.1 155.5h0M960.0 187.2h0M936.8 197.7h0M942.4 167.9h0M978.0 191.4h0M915.5 182.8h0M971.5 172.7h0M916.9 189.4h0M968.2 175.0h0M960.6 182.7h0M924.2 175.1h0M1012.4 137.4h0M860.7 211.8h0M900.6 207.0h0M937.2 186.7h0M1014.6 166.2h0M1020.3 147.0h0M961.0 179.5h0M987.0 169.9h0M990.0 127.9h0M986.1 149.9h0M919.9 196.7h0M956.9 172.2h0M908.9 197.0h0M1057.6 144.4h0M952.6 171.3h0M977.7 164.4h0M1019.2 155.4h0M1038.8 153.6h0M864.3 213.5h0M989.1 165.4h0M952.7 172.0h0M880.0 203.1h0M915.0 190.8h0M974.3 180.0h0M901.0 198.4h0M950.0 169.5h0M933.0 191.4h0M996.4 158.0h0M1025.4 165.1h0M985.4 183.0h0M891.3 211.2h0M923.2 184.9h0M864.6 205.5h0M936.0 191.0h0M895.3 194.2h0M856.6 210.2h0M946.2 166.4h0M943.1 189.9h0M1048.3 150.4h0M1152.7 115.6h0"/><path id="c23" d="M974.6 181.6h0M953.0 175.2h0M916.0 196.7h0M1007.8 167.4h0M902.3 197.1h0M926.6 195.5h0M1020.9 136.9h0M1042.2 150.9h0M1004.9 144.4h0M971.1 157.5h0M930.0 188.5h0M939.8 188.3h0M1061.3 145.1h0M994.5 162.4h0M955.0 151.5h0M1016.8 155.0h0M1016.0 158.6h0M943.4 174.7h0M948.2 179.0h0M869.3 186.5h0M995.7 159.5h0M1036.7 168.2h0M963.1 179.5h0M964.8 160.8h0M985.5 174.7h0M1071.3 141.5h0M1028.7 142.5h0M930.5 189.9h0M916.5 197.7h0M980.1 181.3h0M925.1 198.3h0M831.6 212.8h0M986.8 160.4h0M930.0 188.6h0M939.9 168.3h0M1023.7 155.8h0M870.2 204.4h0M920.2 185.5h0M939.1 184.6h0M996.1 165.6h0M947.7 185.8h0M962.0 177.9h0M885.9 195.6h0M895.6 193.3h0M994.1 147.1h0M1048.8 151.9h0M1019.2 166.6h0M939.2 208.4h0M898.3 184.0h0M888.0 196.4h0M958.6 181.2h0M932.2 184.7h0M1010.3 157.4h0M958.5 170.3h0M1028.3 145.9h0M904.5 189.5h0M993.3 165.8h0M939.5 199.3h0M935.7 186.5h0M1000.1 156.4h0M949.0 176.6h0M992.4 159.8h0M990.7 172.5h0M872.1 205.2h0M1013.1 175.6h0M1010.2 162.2h0M886.8 206.0h0M896.1 193.8h0M978.9 161.5h0M1040.0 144.0h0M1021.6 151.6h0M932.3 182.1h0M1030.0 164.2h0M920.8 194.5h0M999.0 173.6h0M961.6 159.2h0M922.1 164.7h0M999.5 164.9h0M1001.7 135.5h0M1014.3 141.0h0M949.7 152.5h0M983.5 125.8h0M927.1 183.3h0M1107.5 107.8h0"/><path id="c24" d="M968.3 152.2h0M948.8 187.2h0M925.2 196.2h0M1063.2 142.2h0M987.8 164.6h0M970.2 153.0h0M1018.2 151.0h0M916.7 179.0h0M937.6 175.5h0M876.3 209.2h0M957.5 165.3h0M903.3 198.5h0M1068.8 142.1h0M961.8 197.2h0M977.7 163.0h0M934.5 176.8h0M951.9 184.6h0M1008.2 159.4h0M929.9 175.4h0M908.7 200.6h0M1029.1 161.9h0M982.7 174.3h0M920.6 197.5h0M905.1 187.6h0M972.0 179.7h0M1024.9 171.0h0M996.5 167.5h0M928.7 175.5h0M978.4 164.4h0M1035.4 154.4h0M969.4 171.3h0M992.7 160.7h0M907.3 189.5h0M932.2 180.7h0M919.0 185.8h0M997.8 163.0h0M881.8 205.9h0M936.1 179.5h0M917.5 185.5h0M1039.4 149.1h0M968.9 163.6h0M988.3 169.1h0M966.1 163.0h0M1014.9 178.8h0M870.6 213.5h0M990.6 154.9h0M986.2 168.1h0M923.2 175.2h0M939.6 171.5h0M1017.8 146.4h0M999.7 164.8h0M804.2 224.4h0M963.0 175.9h0M1047.3 136.7h0M1038.0 131.8h0M914.0 195.5h0M947.4 187.6h0M884.8 192.0h0M840.7 211.0h0M998.5 149.1h0M945.5 173.6h0M895.0 219.1h0M933.2 175.5h0M1019.5 152.6h0M1037.4 168.2h0M886.8 176.1h0M989.2 161.2h0M966.1 166.2h0M998.6 164.0h0M986.3 155.9h0M944.9 171.9h0M982.3 172.4h0M947.0 162.6h0M967.3 170.2h0M943.9 177.2h0M978.1 156.5h0M939.2 180.2h0M991.5 141.7h0M845.3 208.4h0M981.6 174.5h0M898.7 221.2h0M1006.2 158.7h0M846.5 232.4h0M1110.8 105.0h0"/><path id="c25" d="M949.4 182.5h0M898.3 205.3h0M889.3 213.6h0M1041.4 147.7h0M922.0 184.3h0M959.6 159.5h0M1019.4 166.0h0M981.0 174.1h0M911.8 219.3h0M989.3 139.7h0M1009.6 144.5h0M1022.0 153.2h0M1032.5 156.7h0M1027.8 154.6h0M1026.3 165.2h0M920.8 205.9h0M1017.4 148.6h0M940.4 198.5h0M948.0 175.9h0M989.2 152.9h0M939.9 189.4h0M1018.1 149.7h0M887.7 180.9h0M950.6 186.1h0M1025.7 149.9h0M1000.6 158.9h0M960.9 163.4h0M950.6 163.6h0M1016.6 149.3h0M932.5 168.8h0M960.5 164.3h0M989.4 173.5h0M951.6 159.1h0M883.7 211.4h0M894.2 205.9h0M804.6 216.4h0M866.8 213.4h0M1018.3 153.1h0M970.3 150.4h0M901.1 200.4h0M928.9 189.0h0M1015.6 135.8h0M917.5 184.9h0M1020.6 153.8h0M987.3 167.1h0M936.3 199.2h0M1056.8 143.9h0M1013.4 146.5h0M968.7 165.7h0M988.0 164.4h0M1060.4 147.1h0M951.1 178.9h0M984.5 163.9h0M993.6 168.4h0M978.4 143.2h0M901.9 195.6h0M970.4 169.2h0M959.9 163.9h0M975.6 177.7h0M959.2 167.1h0M978.1 153.3h0M956.4 207.1h0M980.8 128.3h0M930.6 188.9h0M1001.9 191.3h0M912.3 211.1h0M1015.9 154.8h0M1058.7 139.2h0M971.6 179.5h0M914.0 202.7h0M903.4 191.5h0M896.1 192.1h0M954.3 183.1h0M978.9 162.2h0M958.6 177.1h0M1009.6 142.9h0M931.8 184.8h0M941.8 167.9h0M850.4 192.9h0M918.7 173.2h0M917.2 198.7h0M1001.8 148.0h0M828.6 215.1h0M1114.0 108.2h0"/><path id="c26" d="M821.1 224.6h0M959.1 178.6h0M1028.9 149.8h0M896.6 181.2h0M1019.9 131.4h0M905.0 210.5h0M933.6 190.0h0M947.2 172.1h0M855.4 210.4h0M1024.1 163.9h0M1067.5 129.8h0M958.2 161.5h0M998.6 157.3h0M983.1 148.0h0M932.8 189.6h0M949.3 163.2h0M960.7 178.2h0M916.1 180.7h0M929.4 180.9h0M962.2 176.1h0M922.5 196.1h0M1043.2 151.9h0M890.0 202.1h0M953.7 172.8h0M964.1 174.3h0M939.5 181.1h0M1080.2 136.4h0M995.8 157.9h0M978.6 178.2h0M917.1 204.3h0M905.9 203.9h0M935.5 185.1h0M902.4 207.5h0M916.4 192.4h0M963.0 185.6h0M961.9 170.7h0M999.7 171.4h0M909.5 200.3h0M969.3 175.5h0M934.5 192.5h0M956.8 160.5h0M1011.8 178.9h0M998.6 170.2h0M980.1 186.6h0M894.5 198.2h0M903.3 185.1h0M891.0 225.0h0M978.6 162.4h0M885.8 187.6h0M1012.6 144.2h0M894.3 214.5h0M969.5 180.0h0M941.8 169.2h0M978.8 177.6h0M863.9 220.9h0M970.3 188.1h0M963.6 172.3h0M953.7 172.3h0M992.2 166.0h0M948.4 170.2h0M890.6 194.0h0M1012.0 149.7h0M1022.4 149.7h0M934.0 183.4h0M1029.5 153.4h0M861.2 194.0h0M1036.8 151.7h0M1011.1 155.2h0M1046.2 155.8h0M959.8 173.6h0M788.4 221.8h0M963.1 169.9h0M923.3 208.9h0M994.4 164.5h0M951.6 158.7h0M962.3 186.6h0M999.2 155.1h0M975.2 169.7h0M997.4 155.0h0M949.2 193.2h0M994.2 164.1h0M789.7 236.6h0M1044.4 173.8h0M1118.6 105.0h0"/><path id="c27" d="M930.0 183.0h0M935.3 172.6h0M951.2 170.8h0M866.7 187.1h0M889.7 204.4h0M985.1 180.8h0M988.0 181.8h0M918.2 180.3h0M938.0 177.1h0M1015.3 152.1h0M950.9 165.5h0M919.0 206.6h0M922.4 175.3h0M981.3 163.1h0M863.8 213.1h0M1025.2 166.2h0M954.6 191.0h0M945.1 168.8h0M1000.7 163.2h0M903.8 189.8h0M941.1 178.5h0M968.8 176.6h0M932.7 184.1h0M1066.0 128.6h0M1089.1 134.1h0M954.7 184.6h0M997.5 155.1h0M970.1 156.2h0M1017.7 158.6h0M1015.7 157.8h0M991.0 152.5h0M886.0 188.8h0M998.1 179.1h0M995.6 165.5h0M864.3 209.6h0M879.6 198.2h0M917.6 195.2h0M1039.7 151.9h0M961.7 172.0h0M883.2 201.4h0M885.1 187.1h0M980.4 164.6h0M953.1 168.6h0M926.2 164.6h0M914.3 193.6h0M866.4 202.7h0M971.7 159.7h0M946.8 197.6h0M1023.8 159.1h0M985.4 162.3h0M964.5 193.9h0M1065.6 123.0h0M882.0 212.6h0M1028.5 151.0h0M926.7 200.1h0M920.4 190.9h0M1011.3 149.1h0M954.3 170.9h0M919.3 189.0h0M966.3 183.0h0M1002.3 165.6h0M987.0 165.0h0M939.2 175.1h0M1054.8 131.4h0M937.4 184.6h0M1075.6 131.9h0M962.7 175.7h0M994.5 164.5h0M1026.6 156.6h0M1007.3 162.4h0M928.2 182.3h0M864.7 206.0h0M955.6 164.4h0M924.8 186.0h0M924.3 181.8h0M1051.4 153.5h0M825.4 215.2h0M898.2 191.3h0M993.5 185.9h0M930.1 184.8h0M989.5 150.2h0M910.7 192.9h0M954.9 187.0h0M1119.0 108.2h0"/><path id="c28" d="M957.0 177.1h0M1023.9 157.5h0M1012.9 170.9h0M1004.7 154.5h0M952.1 171.5h0M1070.7 133.0h0M952.4 196.0h0M992.1 182.5h0M958.0 178.2h0M972.6 156.7h0M957.0 170.0h0M940.3 179.2h0M1039.1 126.6h0M982.3 153.9h0M944.3 180.9h0M883.3 189.8h0M991.3 170.1h0M883.7 203.2h0M937.8 168.1h0M939.2 180.1h0M975.4 160.7h0M877.9 193.2h0M857.7 212.0h0M1031.1 158.9h0M920.3 185.5h0M990.6 153.8h0M939.6 191.0h0M1073.0 143.4h0M967.1 173.2h0M967.4 175.2h0M847.2 204.3h0M1041.2 135.4h0M965.2 176.1h0M870.6 221.1h0M965.8 172.7h0M1018.4 159.8h0M963.1 172.0h0M1037.7 164.4h0M929.0 191.6h0M1048.8 151.8h0M947.3 192.5h0M1008.0 153.8h0M915.0 187.4h0M982.1 164.7h0M989.9 179.7h0M884.7 204.5h0M944.4 178.9h0M941.6 196.7h0M978.5 168.7h0M891.2 189.3h0M949.4 185.2h0M883.7 189.3h0M904.6 189.2h0M1009.2 185.7h0M993.4 157.6h0M901.2 201.7h0M848.5 210.3h0M933.3 179.1h0M939.2 206.8h0M996.7 163.9h0M960.7 178.5h0M980.7 174.2h0M901.1 194.6h0M1010.4 148.4h0M942.8 172.2h0M962.9 172.7h0M1017.2 157.8h0M992.3 164.9h0M914.2 175.3h0M1026.2 151.0h0M851.4 222.8h0M931.3 188.5h0M993.1 171.0h0M966.7 172.5h0M872.7 196.6h0M943.2 171.9h0M894.4 210.6h0M953.0 173.1h0M1011.1 151.7h0M960.3 162.7h0M958.6 179.2h0M917.0 201.8h0M924.0 169.8h0M1121.9 110.7h0"/><path id="c29" d="M965.9 172.6h0M995.7 164.3h0M960.4 180.0h0M903.8 201.2h0M959.3 166.2h0M945.5 192.2h0M938.3 178.3h0M951.2 190.0h0M955.1 176.4h0M873.9 228.1h0M970.6 161.9h0M947.5 202.9h0M956.6 161.9h0M879.5 205.0h0M960.5 180.2h0M1025.3 151.6h0M1018.0 155.3h0M966.2 162.2h0M935.4 190.1h0M961.4 171.6h0M994.9 150.4h0M894.8 197.2h0M885.5 201.0h0M957.2 190.4h0M974.0 167.4h0M982.9 162.8h0M1001.1 167.0h0M971.5 160.3h0M1027.4 153.4h0M899.0 170.8h0M935.9 192.0h0M974.3 159.5h0M950.8 173.3h0M955.8 194.0h0M960.8 181.9h0M1096.8 128.8h0M925.4 172.4h0M963.6 172.4h0M964.8 174.4h0M1031.1 149.8h0M1002.4 149.3h0M966.2 171.7h0M1010.7 151.0h0M965.7 184.7h0M943.4 170.2h0M989.7 173.7h0M872.1 203.5h0M990.3 152.8h0M876.2 207.8h0M895.1 180.3h0M990.5 162.1h0M1064.6 137.6h0M1001.9 160.1h0M985.2 161.0h0M960.7 177.1h0M972.8 172.4h0M977.5 183.9h0M942.6 158.1h0M906.5 189.8h0M984.9 131.4h0M986.1 153.2h0M912.5 179.4h0M809.4 232.7h0M941.1 177.4h0M977.2 152.2h0M973.2 175.7h0M902.8 174.0h0M965.9 182.8h0M966.5 163.2h0M910.2 191.3h0M859.3 191.7h0M929.9 174.6h0M957.4 213.0h0M892.3 195.1h0M988.4 144.6h0M923.2 188.8h0M856.2 206.3h0M1016.9 162.7h0M945.3 187.5h0M1013.1 147.6h0M919.9 182.3h0M947.0 189.8h0M918.5 172.7h0M1126.0 109.0h0"/><path id="c30" d="M875.4 184.8h0M958.4 179.6h0M921.5 186.7h0M959.0 182.5h0M886.7 209.1h0M948.5 180.7h0M941.0 170.7h0M992.9 167.4h0M954.5 141.5h0M1011.6 145.7h0M1033.7 139.7h0M998.3 173.0h0M955.9 164.0h0M950.6 192.3h0M965.7 181.3h0M924.5 173.0h0M940.9 191.8h0M1094.1 114.2h0M893.5 176.7h0M987.4 164.9h0M1024.8 158.1h0M880.5 187.3h0M869.6 211.5h0M1026.3 146.9h0M854.2 220.0h0M864.9 211.8h0M982.8 161.6h0M1039.4 144.8h0M1028.3 143.8h0M938.8 184.7h0M937.4 181.9h0M1015.7 146.4h0M980.1 163.8h0M999.2 156.5h0M923.5 180.4h0M931.1 185.5h0M964.7 162.3h0M995.3 157.4h0M855.3 225.9h0M1001.1 164.4h0M1068.1 143.2h0M1028.7 127.0h0M999.4 148.8h0M1005.8 150.5h0M1004.3 158.4h0M940.9 169.3h0M920.3 184.1h0M977.5 159.4h0M957.1 166.6h0M1060.2 138.4h0M968.5 157.6h0M945.9 168.1h0M984.3 158.4h0M977.8 157.5h0M1045.3 155.9h0M988.6 156.6h0M877.4 210.2h0M934.6 180.4h0M1001.7 161.9h0M986.8 140.8h0M922.8 158.0h0M924.6 175.4h0M971.0 167.8h0M857.5 193.8h0M943.1 183.0h0M922.5 189.4h0M968.9 171.4h0M1012.5 172.8h0M913.7 197.6h0M1001.6 167.3h0M1003.5 146.5h0M989.6 181.1h0M1011.7 157.0h0M878.9 194.1h0M880.3 205.6h0M930.9 163.9h0M1030.8 153.1h0M995.9 168.4h0M887.5 212.4h0M873.6 213.3h0M996.3 169.4h0M969.6 194.7h0M899.5 197.6h0M1116.6 117.7h0"/><path id="c31" d="M933.4 180.2h0M996.5 176.9h0M941.7 182.6h0M1005.9 160.8h0M1054.5 140.5h0M902.1 198.4h0M888.1 176.3h0M957.1 181.6h0M897.9 197.2h0M951.6 177.6h0M958.0 170.2h0M871.8 209.1h0M943.7 166.8h0M945.4 184.1h0M1032.2 131.3h0M899.1 193.5h0M946.3 163.9h0M1022.7 151.3h0M957.0 178.0h0M927.0 193.2h0M1026.5 151.0h0M1047.3 172.3h0M969.7 163.1h0M916.8 185.0h0M890.7 205.0h0M1001.5 166.2h0M911.2 171.0h0M974.9 180.1h0M954.2 175.0h0M918.1 173.8h0M944.6 180.0h0M1037.4 152.3h0M946.1 167.2h0M938.9 179.8h0M904.0 208.4h0M963.8 165.1h0M1036.9 155.1h0M1001.0 168.7h0M973.1 193.7h0M893.7 221.6h0M998.6 147.5h0M958.2 162.7h0M927.0 194.5h0M890.9 205.3h0M1002.5 145.2h0M897.4 175.3h0M1021.8 164.5h0M913.9 184.0h0M917.0 195.7h0M973.6 158.3h0M996.0 167.5h0M999.6 157.0h0M1047.3 142.8h0M1056.5 140.8h0M884.4 194.9h0M862.7 202.3h0M1026.1 137.0h0M978.1 182.2h0M876.1 228.9h0M968.2 162.7h0M988.0 172.0h0M964.9 196.0h0M908.6 174.6h0M968.6 169.1h0M931.8 186.9h0M1018.4 168.1h0M922.4 193.5h0M951.1 164.8h0M991.6 152.8h0M973.6 173.5h0M998.7 168.7h0M967.4 162.2h0M1022.1 142.7h0M987.1 159.0h0M891.4 196.3h0M816.8 218.4h0M925.7 168.8h0M962.0 177.1h0M929.1 195.4h0M1030.1 163.5h0M864.7 198.7h0M1010.4 143.4h0M1034.2 160.0h0"/><path id="c32" d="M905.8 182.7h0M941.0 163.6h0M928.8 192.1h0M869.2 188.9h0M1040.1 145.5h0M977.3 162.1h0M880.2 201.3h0M899.9 190.7h0M956.0 186.2h0M820.2 220.8h0M1040.6 146.5h0M902.6 218.3h0M964.8 157.6h0M971.1 174.6h0M977.1 167.5h0M1029.1 161.0h0M950.8 188.6h0M898.6 181.9h0M910.5 198.6h0M945.9 184.5h0M1025.0 170.5h0M913.0 184.0h0M982.2 153.4h0M941.1 170.2h0M1032.9 145.2h0M855.4 211.3h0M963.8 173.3h0M993.0 164.1h0M1038.9 146.1h0M976.0 176.6h0M976.6 161.9h0M931.0 188.1h0M874.1 219.4h0M972.9 180.3h0M883.5 200.0h0M945.9 181.1h0M922.0 195.3h0M1045.3 156.8h0M1022.0 139.6h0M969.2 172.8h0M974.7 164.6h0M845.4 204.5h0M1023.7 154.3h0M966.1 166.2h0M999.5 166.8h0M930.7 188.6h0M933.9 183.3h0M1054.2 145.4h0M923.5 181.9h0M881.6 197.4h0M936.5 183.3h0M819.8 223.3h0M962.8 178.6h0M987.9 166.8h0M997.0 169.8h0M1052.7 138.0h0M851.1 198.1h0M914.9 200.3h0M942.4 173.2h0M917.3 180.6h0M920.9 210.2h0M1010.4 159.4h0M976.9 166.6h0M989.4 175.7h0M1050.7 139.2h0M843.9 228.6h0M969.3 174.5h0M936.4 189.3h0M911.9 191.8h0M1020.5 143.7h0M854.1 189.9h0M947.9 177.6h0M975.8 164.5h0M953.5 176.3h0M940.1 191.1h0M912.2 187.0h0M928.5 156.8h0M901.2 187.4h0M988.6 143.5h0M936.9 170.9h0M939.7 193.7h0M993.7 175.3h0M955.1 164.4h0"/><path id="c33" d="M915.2 176.3h0M1017.6 180.7h0M960.1 164.8h0M843.5 209.2h0M934.2 187.9h0M891.0 225.3h0M1003.4 162.2h0M954.1 197.6h0M957.6 172.2h0M980.5 179.3h0M906.5 190.3h0M938.9 201.8h0M935.7 186.4h0M884.9 185.5h0M1004.5 162.6h0M954.4 163.5h0M964.2 152.4h0M911.6 185.9h0M949.7 169.4h0M859.6 202.1h0M1034.7 173.9h0M1027.5 146.5h0M1070.2 142.1h0M1009.8 157.1h0M907.8 179.5h0M1015.8 132.4h0M950.4 152.7h0M880.2 206.7h0M968.8 186.9h0M965.7 181.4h0M892.1 189.7h0M1004.4 149.4h0M992.5 172.6h0M898.2 196.1h0M1062.7 140.1h0M979.0 156.7h0M940.9 173.3h0M901.8 199.7h0M974.8 171.4h0M946.8 164.5h0M1024.9 153.8h0M1033.4 159.4h0M943.3 185.9h0M950.9 176.9h0M910.4 191.2h0M1045.8 139.9h0M919.9 176.3h0M973.8 165.1h0M963.9 185.0h0M978.9 161.7h0M962.4 165.7h0M967.3 170.4h0M1007.3 167.3h0M954.9 163.9h0M925.2 209.5h0M961.5 161.7h0M904.4 194.3h0M943.7 171.9h0M1067.1 138.9h0M945.3 168.5h0M1012.2 148.0h0M914.0 177.4h0M972.4 160.3h0M955.3 195.6h0M948.6 161.2h0M961.2 175.3h0M1001.0 153.3h0M965.3 170.1h0M1010.5 165.2h0M1036.3 154.8h0M1006.6 153.3h0M1003.6 156.1h0M974.9 149.8h0M867.4 201.5h0M917.6 184.7h0M1012.0 150.9h0M896.2 206.8h0M1015.6 165.1h0M914.8 205.8h0M1040.6 160.4h0M944.7 168.9h0M952.7 171.5h0M1058.3 141.3h0"/><path id="c34" d="M1018.1 165.4h0M959.4 181.3h0M939.0 171.5h0M974.0 170.0h0M1002.2 153.7h0M898.7 219.0h0M949.2 190.0h0M962.6 165.2h0M1030.8 154.0h0M877.5 197.9h0M949.4 150.8h0M1099.1 126.0h0M955.1 168.0h0M1049.7 121.9h0M899.1 196.8h0M888.1 195.4h0M910.1 180.1h0M937.4 200.1h0M1017.1 149.2h0M896.3 196.0h0M996.1 171.7h0M991.9 181.1h0M877.2 217.6h0M891.3 204.7h0M988.9 149.9h0M980.5 175.4h0M848.4 181.1h0M952.7 182.7h0M964.5 184.4h0M1023.0 142.3h0M992.1 178.1h0M946.4 191.8h0M975.6 170.7h0M1031.8 143.2h0M885.8 219.7h0M995.2 181.4h0M915.3 209.5h0M1024.7 153.6h0M938.2 170.2h0M964.1 170.5h0M1015.8 149.2h0M965.6 167.3h0M942.7 189.0h0M898.6 206.8h0M924.3 183.1h0M941.5 161.8h0M1007.5 146.7h0M960.3 180.0h0M920.6 188.6h0M939.8 186.3h0M922.8 178.0h0M940.8 151.3h0M1032.5 175.8h0M912.6 190.0h0M1032.5 149.9h0M953.9 201.4h0M867.5 206.3h0M951.8 165.5h0M962.5 171.2h0M907.8 196.2h0M1021.9 154.6h0M897.9 202.5h0M883.5 202.4h0M891.1 205.3h0M906.5 201.5h0M1081.2 152.5h0M1018.6 157.0h0M1009.6 174.5h0M981.1 162.6h0M940.8 194.2h0M985.0 164.1h0M968.0 196.8h0M953.5 177.1h0M909.7 195.2h0M970.9 158.3h0M971.2 172.5h0M1006.4 168.3h0M865.7 196.4h0M918.4 193.8h0M980.3 159.8h0M912.0 223.1h0M961.0 169.3h0M948.7 174.8h0"/><path id="c35" d="M915.2 170.0h0M991.8 157.0h0M943.2 172.0h0M962.1 181.9h0M980.5 155.8h0M1030.2 164.3h0M971.6 159.2h0M1012.5 148.3h0M1062.5 143.4h0M888.3 210.3h0M948.8 177.7h0M1012.3 155.8h0M900.0 190.5h0M965.4 180.3h0M1007.5 160.3h0M939.9 178.9h0M1016.3 165.1h0M1015.0 160.2h0M979.8 188.7h0M1048.8 156.9h0M875.4 209.8h0M1054.1 157.7h0M922.3 186.7h0M944.3 184.7h0M956.3 185.1h0M953.4 171.9h0M949.9 191.8h0M955.9 174.6h0M908.9 187.7h0M998.8 154.6h0M949.8 192.7h0M956.2 176.3h0M951.2 168.2h0M1020.3 134.3h0M1045.5 142.5h0M1030.6 137.7h0M1007.9 163.4h0M939.0 181.4h0M949.8 177.3h0M949.3 172.2h0M1051.3 150.4h0M895.2 199.9h0M966.5 151.0h0M971.6 163.3h0M901.1 198.2h0M927.5 191.5h0M1014.1 151.1h0M1041.0 150.5h0M1012.8 160.5h0M858.2 199.2h0M923.1 187.2h0M997.3 150.6h0M1014.5 145.1h0M940.9 169.7h0M955.6 173.9h0M1018.4 149.9h0M1050.0 145.9h0M1031.6 142.0h0M985.5 161.9h0M1015.0 134.7h0M1009.9 156.2h0M1022.7 157.0h0M1054.6 114.8h0M916.2 189.8h0M986.5 158.7h0M938.7 172.2h0M905.2 194.3h0M977.9 166.7h0M1013.2 166.7h0M879.9 194.4h0M916.5 167.5h0M987.0 146.3h0M975.9 161.7h0M957.6 165.5h0M1012.1 140.9h0M911.5 188.0h0M934.2 191.0h0M912.8 187.5h0M880.1 186.7h0M1025.7 157.1h0M967.1 192.3h0M1056.6 148.6h0M830.3 209.5h0"/><path id="c36" d="M957.9 166.9h0M888.6 213.2h0M883.8 201.7h0M946.2 168.9h0M815.8 209.6h0M909.8 179.5h0M1014.9 151.4h0M909.8 192.7h0M952.1 177.7h0M924.7 196.6h0M1003.0 162.4h0M953.6 177.5h0M939.1 182.5h0M893.0 200.2h0M1075.1 119.8h0M1011.0 155.6h0M937.6 179.4h0M914.5 193.0h0M987.5 161.6h0M839.2 221.7h0M952.5 193.9h0M1014.9 146.6h0M1009.9 174.5h0M887.0 210.4h0M902.2 181.7h0M1037.2 154.7h0M943.7 180.0h0M946.3 167.1h0M943.8 197.2h0M873.6 222.4h0M923.9 175.1h0M955.0 196.5h0M1013.9 151.2h0M972.7 179.9h0M992.7 177.3h0M905.3 194.5h0M903.2 197.1h0M917.4 190.4h0M952.4 176.1h0M988.3 160.8h0M1019.3 151.7h0M948.8 177.7h0M918.2 178.2h0M961.6 187.5h0M930.4 185.1h0M1034.1 152.0h0M1014.0 159.1h0M1016.1 165.0h0M920.9 188.4h0M833.6 202.4h0M951.9 177.0h0M964.7 160.9h0M926.2 200.8h0M902.0 169.7h0M1016.4 148.2h0M963.5 173.1h0M888.7 197.6h0M980.3 158.4h0M951.6 181.6h0M843.9 217.2h0M988.1 151.3h0M908.5 180.9h0M1019.3 173.0h0M890.6 193.2h0M1060.8 143.6h0M960.6 161.8h0M1029.5 154.0h0M996.8 171.3h0M951.7 194.5h0M981.5 156.4h0M1000.1 187.6h0M999.6 179.3h0M895.6 206.1h0M1042.1 151.7h0M970.1 170.5h0M975.9 175.4h0M969.1 177.3h0M976.9 158.9h0M892.9 188.0h0M988.9 163.6h0M921.9 165.4h0M925.9 184.2h0M1006.2 170.6h0"/><path id="c37" d="M1008.4 147.1h0M978.8 160.8h0M915.3 166.7h0M961.8 170.2h0M973.5 171.7h0M1019.2 156.0h0M864.3 212.6h0M957.5 190.3h0M917.5 179.6h0M1029.8 155.8h0M1017.3 159.0h0M998.9 170.1h0M1085.3 137.4h0M865.6 206.9h0M1002.3 154.3h0M1025.3 140.6h0M985.2 151.8h0M921.7 180.1h0M979.3 181.8h0M941.1 187.6h0M977.0 188.3h0M954.1 188.5h0M947.8 185.9h0M966.2 183.1h0M940.5 172.6h0M892.9 187.9h0M934.9 193.1h0M841.1 217.3h0M1002.5 157.1h0M982.1 160.0h0M884.4 198.4h0M959.6 178.7h0M1026.8 156.7h0M863.0 200.0h0M939.6 208.6h0M1046.2 133.2h0M897.3 207.7h0M965.3 172.6h0M929.4 178.1h0M937.9 187.6h0M953.2 173.1h0M911.0 188.6h0M935.4 200.7h0M937.1 167.8h0M899.6 186.2h0M985.1 178.6h0M916.2 197.5h0M954.8 172.9h0M1013.8 154.7h0M871.4 204.2h0M951.9 155.9h0M896.8 199.1h0M949.5 181.6h0M965.8 164.1h0M924.0 175.8h0M926.4 186.2h0M966.0 189.9h0M953.7 174.2h0M895.0 207.5h0M947.7 179.4h0M994.6 162.1h0M1019.0 157.7h0M1006.4 152.4h0M971.6 158.6h0M964.1 176.8h0M996.7 200.5h0M933.6 181.3h0M848.2 178.7h0M879.5 186.9h0M1057.5 144.6h0M870.1 221.3h0M953.7 185.1h0M979.1 165.4h0M1014.0 137.3h0M967.3 178.9h0M845.5 211.8h0M844.8 219.2h0M890.6 186.2h0M1003.9 177.6h0M1017.6 127.9h0M914.4 186.5h0M976.5 169.0h0M939.4 171.2h0"/><path id="c38" d="M927.6 194.3h0M866.7 191.0h0M1050.8 124.3h0M912.3 190.5h0M956.3 173.2h0M1043.6 165.2h0M916.5 180.9h0M864.9 205.7h0M956.1 172.7h0M939.3 194.7h0M876.6 202.3h0M1073.0 112.4h0M955.9 181.1h0M944.2 183.0h0M973.7 156.6h0M936.2 172.3h0M914.2 190.8h0M1008.4 166.7h0M963.0 181.5h0M971.8 170.2h0M938.6 175.4h0M948.7 185.5h0M941.7 167.2h0M1049.6 151.0h0M931.4 184.4h0M968.9 166.5h0M866.6 206.9h0M1008.2 156.8h0M887.4 205.7h0M1009.1 150.9h0M894.5 191.7h0M1021.0 161.8h0M899.5 205.7h0M902.1 170.6h0M896.0 202.5h0M908.4 190.7h0M883.3 211.1h0M947.9 193.5h0M927.5 178.2h0M1006.8 174.0h0M973.9 171.9h0M1075.3 141.0h0M950.9 172.7h0M981.5 166.3h0M923.4 186.4h0M962.1 174.9h0M956.5 161.0h0M989.2 169.0h0M957.3 177.0h0M974.7 160.1h0M895.1 199.0h0M1011.8 150.0h0M966.8 153.6h0M974.0 159.1h0M882.1 197.8h0M1080.5 147.7h0M930.2 174.5h0M989.2 180.2h0M957.9 179.8h0M1091.2 106.9h0M810.7 238.9h0M973.1 183.3h0M894.5 190.2h0M1004.8 166.0h0M1027.5 142.9h0M915.0 206.7h0M903.2 188.9h0M1025.4 163.9h0M1056.9 162.2h0M997.4 160.3h0M893.4 188.3h0M941.2 172.9h0M968.1 154.1h0M1000.4 160.3h0M957.7 182.7h0M941.0 184.9h0M1021.4 152.0h0M1042.2 131.7h0M982.4 166.8h0M960.8 155.4h0M1058.0 150.7h0M1045.9 150.4h0M946.6 202.5h0"/><path id="c39" d="M953.5 166.9h0M847.6 220.9h0M922.7 190.8h0M876.3 200.8h0M964.3 146.4h0M974.0 163.9h0M969.3 164.7h0M995.6 168.2h0M926.2 198.7h0M974.6 151.7h0M909.3 188.3h0M946.8 180.3h0M946.5 181.5h0M954.8 189.4h0M968.2 205.7h0M982.1 163.6h0M979.5 180.2h0M1007.3 162.3h0M952.7 166.9h0M939.1 178.5h0M1009.9 166.5h0M964.4 166.5h0M1053.8 117.7h0M918.3 193.9h0M932.9 178.1h0M1042.4 149.5h0M939.6 186.9h0M938.4 197.6h0M995.5 171.4h0M984.8 172.9h0M979.5 164.3h0M966.5 185.5h0M916.7 179.2h0M1013.5 155.8h0M1017.1 157.9h0M975.0 160.0h0M882.1 196.7h0M905.3 223.2h0M908.8 205.4h0M973.0 162.1h0M969.6 167.6h0M987.1 158.7h0M1044.0 151.9h0M881.6 210.9h0M948.2 164.1h0M926.2 186.2h0M1016.4 149.6h0M900.8 183.3h0M1006.8 160.9h0M957.0 170.0h0M1046.2 150.3h0M997.9 136.6h0M905.4 196.5h0M846.9 206.2h0M898.5 196.8h0M900.5 188.0h0M860.6 214.2h0M982.1 174.3h0M982.1 171.5h0M940.9 203.5h0M1005.7 180.9h0M1008.2 165.9h0M937.3 179.0h0M1016.2 164.8h0M935.6 191.5h0M961.0 171.1h0M950.3 172.6h0M1088.6 142.2h0M950.2 171.7h0M972.4 179.2h0M880.4 203.1h0M975.3 175.1h0M909.5 184.9h0M858.2 204.4h0M1003.7 174.4h0M985.6 161.8h0M978.7 154.7h0M1017.5 146.8h0M893.0 201.2h0M911.7 179.8h0M999.6 135.1h0M978.7 166.6h0M1046.0 127.9h0"/><path id="c40" d="M965.8 167.3h0M942.9 177.2h0M901.6 194.7h0M950.5 158.4h0M900.4 206.2h0M990.2 156.1h0M981.3 187.8h0M900.1 187.7h0M918.8 189.3h0M1055.9 156.9h0M978.2 180.6h0M939.5 190.5h0M989.0 178.2h0M920.1 186.1h0M1058.1 137.4h0M999.0 177.8h0M981.3 165.0h0M939.1 190.9h0M942.7 188.6h0M915.2 187.5h0M939.9 199.6h0M969.3 175.2h0M941.1 176.8h0M972.1 158.3h0M1001.2 151.6h0M948.6 197.8h0M957.4 175.9h0M935.6 181.2h0M978.9 160.8h0M1016.4 153.2h0M906.6 175.3h0M951.2 171.0h0M1044.9 135.7h0M1054.0 127.0h0M1054.9 132.8h0M1023.5 136.8h0M985.6 184.3h0M871.7 197.8h0M1025.1 140.3h0M943.6 169.2h0M976.3 180.1h0M873.3 186.1h0M1042.3 134.7h0M956.7 194.0h0M904.6 200.4h0M874.2 207.1h0M923.6 190.8h0M924.4 178.0h0M929.9 207.2h0M946.0 190.6h0M952.3 194.0h0M992.6 158.3h0M985.8 158.6h0M960.9 170.8h0M926.3 192.1h0M954.3 163.7h0M941.1 178.8h0M1019.6 173.5h0M903.4 169.3h0M897.2 191.4h0M944.6 180.1h0M1055.8 157.2h0M929.6 197.0h0M919.4 179.4h0M932.6 195.5h0M1012.6 154.5h0M879.2 219.5h0M1033.2 139.5h0M1035.5 166.0h0M1091.9 132.4h0M898.5 204.6h0M934.3 186.6h0M1075.1 133.4h0M951.1 184.8h0M854.8 207.1h0M995.1 177.2h0M987.3 178.4h0M925.8 176.5h0M897.5 196.1h0M994.8 177.0h0M1024.9 139.7h0M847.2 210.4h0M945.2 196.7h0"/><path id="c41" d="M963.2 178.8h0M910.1 202.9h0M978.3 154.6h0M906.2 193.8h0M944.9 176.6h0M1067.2 141.1h0M938.9 172.8h0M860.2 208.3h0M956.5 170.0h0M1047.5 153.3h0M923.4 208.3h0M1026.4 133.2h0M998.7 155.4h0M964.8 168.2h0M908.6 179.0h0M924.2 189.9h0M936.5 159.0h0M898.1 194.3h0M1001.5 155.5h0M956.3 182.1h0M908.7 165.5h0M930.5 179.2h0M896.0 207.8h0M910.3 204.8h0M995.6 142.8h0M936.1 188.0h0M965.5 161.8h0M945.6 166.3h0M975.0 176.7h0M929.4 181.6h0M963.2 186.7h0M944.5 187.7h0M1037.8 118.8h0M976.0 197.3h0M908.3 197.0h0M999.0 167.5h0M1101.2 137.6h0M907.8 177.0h0M958.8 186.1h0M953.5 171.2h0M970.7 165.4h0M989.8 153.5h0M945.4 178.1h0M983.4 149.4h0M881.5 198.1h0M895.2 203.5h0M918.4 211.4h0M835.2 224.7h0M931.9 171.1h0M975.4 164.7h0M883.5 194.5h0M1015.3 143.7h0M1016.1 157.3h0M995.6 159.0h0M903.3 210.3h0M1006.3 147.6h0M996.2 188.9h0M987.6 169.0h0M978.5 148.3h0M958.7 193.7h0M964.9 185.6h0M997.6 155.7h0M936.9 194.8h0M972.6 157.1h0M921.7 179.8h0M970.4 169.7h0M959.9 186.2h0M942.2 167.7h0M983.4 166.9h0M902.4 181.3h0M1008.1 141.4h0M978.6 191.7h0M903.4 214.1h0M982.8 169.7h0M976.7 152.8h0M914.0 205.1h0M1025.1 168.5h0M926.5 186.2h0M926.1 175.9h0M997.0 157.2h0M961.7 159.9h0M980.3 178.3h0M1023.7 159.6h0"/><path id="c42" d="M892.2 171.0h0M968.7 165.3h0M1037.2 157.1h0M869.2 185.5h0M949.9 167.5h0M948.9 181.5h0M1016.4 153.8h0M956.4 167.1h0M902.2 198.5h0M954.0 179.6h0M875.9 198.8h0M986.9 158.3h0M898.4 194.9h0M924.4 181.4h0M953.6 153.8h0M979.2 165.9h0M1071.0 153.0h0M874.4 201.0h0M900.0 197.5h0M959.4 173.6h0M1039.2 145.9h0M957.9 185.0h0M887.2 190.3h0M896.4 196.4h0M927.9 196.8h0M966.2 159.1h0M895.4 185.4h0M947.1 169.6h0M838.2 224.3h0M907.3 197.4h0M1018.2 143.0h0M978.5 172.3h0M919.0 190.0h0M1028.4 135.8h0M943.2 163.8h0M908.0 190.9h0M904.9 200.1h0M1039.7 164.1h0M1012.4 155.5h0M935.4 178.8h0M916.6 202.2h0M937.7 179.5h0M1048.4 146.5h0M975.3 153.9h0M884.7 214.1h0M933.2 199.7h0M1005.3 168.4h0M1026.9 131.4h0M896.2 202.3h0M992.8 148.3h0M1020.4 156.4h0M1020.3 140.0h0M933.2 175.2h0M969.0 170.1h0M1025.8 156.5h0M900.8 194.6h0M949.5 175.1h0M1058.5 155.8h0M1028.2 156.8h0M1030.7 158.0h0M944.1 176.5h0M1002.4 179.4h0M897.8 197.8h0M990.2 169.8h0M951.8 177.5h0M980.1 163.0h0M975.6 198.4h0M913.0 213.4h0M996.8 164.3h0M1009.4 148.9h0M886.3 193.1h0M1018.2 158.9h0M909.1 194.7h0M978.2 165.6h0M905.1 218.1h0M1007.0 152.4h0M946.3 198.2h0M884.3 191.9h0M987.5 170.3h0M1073.6 134.6h0M1012.0 160.7h0M938.4 195.5h0M959.4 181.5h0"/><path id="c43" d="M963.9 166.3h0M1083.3 131.8h0M879.6 196.3h0M987.5 151.0h0M1025.1 150.7h0M927.0 180.2h0M971.3 174.7h0M1020.6 158.7h0M993.1 150.2h0M946.4 178.6h0M1016.9 173.0h0M996.7 166.0h0M948.3 176.8h0M990.1 177.2h0M985.0 165.0h0M957.9 154.2h0M980.1 160.5h0M921.2 175.3h0M1033.5 127.2h0M955.2 190.5h0M996.4 165.6h0M1048.3 141.9h0M978.2 193.6h0M891.6 204.0h0M909.7 184.6h0M934.5 185.5h0M995.5 159.6h0M982.1 161.6h0M954.0 183.7h0M1010.9 163.9h0M1016.6 164.6h0M910.4 193.8h0M894.7 178.4h0M926.2 185.8h0M1017.6 139.4h0M921.0 189.3h0M1012.1 156.4h0M1067.8 146.5h0M945.9 152.0h0M1004.5 156.1h0M843.8 207.0h0M1065.2 159.5h0M957.3 173.5h0M1019.0 167.5h0M984.7 167.1h0M947.6 192.4h0M1045.7 166.3h0M855.2 221.5h0M991.5 166.3h0M843.9 217.8h0M918.5 166.7h0M958.5 167.3h0M1068.3 137.4h0M907.3 179.8h0M1033.4 138.7h0M954.1 169.2h0M1011.5 142.7h0M1033.7 148.5h0M1018.6 159.2h0M950.9 178.5h0M883.1 214.2h0M909.1 180.2h0M983.6 165.4h0M931.5 180.2h0M1060.8 143.8h0M940.4 172.6h0M948.7 169.2h0M975.0 166.6h0M1060.5 145.7h0M928.3 183.1h0M896.3 208.9h0M1004.2 156.5h0M972.1 183.6h0M979.4 166.8h0M888.5 221.4h0M1059.6 137.4h0M947.7 164.8h0M879.8 209.8h0M892.6 199.1h0M847.1 211.9h0M1001.9 152.2h0M953.5 185.3h0M918.3 179.0h0"/><path id="c44" d="M1034.5 151.7h0M913.9 186.8h0M948.2 177.4h0M956.3 174.7h0M978.1 160.7h0M885.2 185.5h0M892.9 201.1h0M875.7 186.1h0M954.0 167.4h0M890.3 188.5h0M986.9 162.2h0M931.7 170.2h0M1010.3 153.5h0M919.8 188.5h0M1000.7 179.3h0M930.2 179.2h0M1057.5 140.7h0M836.9 205.4h0M961.6 173.8h0M856.3 240.3h0M971.8 162.8h0M866.0 194.0h0M976.5 176.9h0M1039.8 131.5h0M975.2 170.9h0M1047.2 138.4h0M890.9 197.3h0M889.7 203.4h0M995.4 161.8h0M901.0 201.5h0M1045.6 137.9h0M932.0 191.8h0M924.6 199.4h0M949.3 198.5h0M978.2 156.4h0M934.2 180.7h0M973.5 185.2h0M995.5 160.0h0M963.7 173.1h0M944.7 180.6h0M922.7 182.3h0M901.7 182.3h0M980.6 163.2h0M893.5 179.1h0M963.0 180.4h0M979.3 178.0h0M896.2 181.9h0M997.2 156.7h0M1011.3 166.2h0M943.1 199.0h0M987.7 168.1h0M884.9 181.7h0M943.7 184.7h0M1029.7 167.7h0M974.7 162.0h0M981.0 157.2h0M939.8 204.6h0M957.4 176.8h0M872.5 200.0h0M993.5 167.1h0M930.0 188.3h0M921.4 205.5h0M972.3 183.8h0M951.5 162.0h0M896.1 197.3h0M977.1 159.0h0M989.2 152.2h0M905.3 182.9h0M978.4 192.4h0M962.4 176.3h0M907.3 198.6h0M936.2 174.1h0M850.4 201.6h0M943.7 185.8h0M956.7 158.9h0M933.2 192.8h0M996.5 146.1h0M981.6 168.6h0M947.9 160.7h0M946.8 162.5h0M1025.8 145.6h0M1017.6 152.8h0M987.6 155.7h0"/><path id="c45" d="M874.5 200.2h0M925.3 170.2h0M924.9 193.5h0M982.1 156.9h0M959.4 172.4h0M962.0 171.7h0M908.4 171.8h0M899.8 219.8h0M973.5 180.6h0M921.4 177.8h0M986.9 163.6h0M1065.7 137.1h0M974.6 161.1h0M957.6 194.0h0M935.6 175.3h0M932.6 183.7h0M1012.5 157.2h0M1001.0 157.7h0M918.5 200.2h0M951.6 177.0h0M1010.7 165.8h0M973.9 166.4h0M884.2 183.1h0M1089.8 128.5h0M954.2 178.7h0M908.4 196.9h0M947.0 177.3h0M908.4 202.2h0M917.7 158.0h0M840.8 217.2h0M943.4 165.2h0M956.8 159.9h0M932.3 189.6h0M959.8 166.0h0M1069.8 123.3h0M956.9 193.3h0M899.0 183.0h0M1025.0 143.0h0M950.3 160.3h0M975.9 166.9h0M848.1 204.6h0M836.0 204.4h0M1008.3 157.7h0M876.7 200.1h0M1016.2 141.1h0M990.1 157.3h0M816.6 219.8h0M913.9 177.4h0M1076.4 124.1h0M914.1 186.8h0M958.8 165.2h0M883.4 196.8h0M948.5 163.1h0M921.5 189.5h0M902.7 171.1h0M1091.9 110.6h0M960.1 157.9h0M936.9 202.6h0M906.0 186.3h0M965.2 170.8h0M996.0 178.7h0M995.2 162.1h0M979.8 179.7h0M1076.6 132.0h0M1049.9 139.0h0M962.8 153.5h0M942.4 165.7h0M999.7 174.7h0M1036.8 150.0h0M964.6 190.4h0M970.5 161.1h0M886.5 201.2h0M913.3 197.2h0M1053.2 155.2h0M935.1 199.6h0M997.5 163.2h0M980.5 183.3h0M991.6 154.1h0M838.6 234.2h0M1016.4 173.7h0M1089.4 148.9h0M985.5 149.0h0M926.6 180.5h0"/><path id="c46" d="M1007.0 148.0h0M971.0 164.9h0M862.7 209.0h0M905.2 193.7h0M1043.9 137.7h0M1041.1 141.1h0M1004.0 142.3h0M918.8 199.1h0M949.6 174.0h0M983.1 169.7h0M933.5 170.1h0M1053.8 135.6h0M966.4 178.5h0M1013.6 145.7h0M976.6 174.8h0M963.4 159.0h0M923.2 189.9h0M925.0 182.2h0M932.8 194.7h0M912.6 207.9h0M1018.2 137.2h0M909.7 215.8h0M905.4 184.6h0M986.3 170.0h0M1016.3 143.0h0M1009.1 178.5h0M1033.6 148.3h0M975.7 170.0h0M964.7 196.1h0M1016.2 170.4h0M899.9 209.7h0M928.5 190.3h0M872.5 211.0h0M983.0 155.3h0M928.3 181.1h0M1022.9 155.4h0M944.5 183.2h0M931.2 177.6h0M985.2 170.6h0M938.1 182.3h0M963.4 179.6h0M963.3 175.2h0M975.8 171.1h0M972.9 172.1h0M1017.2 147.2h0M972.0 175.5h0M879.8 208.9h0M905.8 177.9h0M1030.8 160.6h0M891.8 203.5h0M973.5 159.0h0M1034.0 143.7h0M946.6 181.1h0M892.2 189.4h0M953.2 177.7h0M910.5 177.4h0M938.5 176.2h0M1008.3 150.2h0M870.8 211.5h0M939.2 189.8h0M1037.7 152.5h0M1044.2 162.6h0M931.8 177.6h0M971.0 171.5h0M904.2 197.2h0M1039.8 147.5h0M959.9 172.8h0M930.8 176.6h0M878.0 202.1h0M1043.1 143.0h0M941.0 160.8h0M954.1 173.2h0M873.0 198.6h0M1037.8 147.1h0M988.6 160.2h0M870.9 214.5h0M943.5 196.7h0M976.6 168.1h0M887.7 201.3h0M888.6 193.4h0M946.5 171.0h0M945.2 161.5h0M1027.3 144.8h0"/><path id="c47" d="M966.3 159.2h0M986.8 149.9h0M1000.2 178.1h0M923.5 195.5h0M929.1 170.1h0M1012.5 157.1h0M985.2 145.3h0M897.5 189.4h0M919.6 165.4h0M981.5 171.2h0M1016.4 136.7h0M990.9 161.2h0M1045.3 146.8h0M1101.3 138.0h0M944.4 198.9h0M961.3 174.3h0M938.6 184.0h0M986.2 163.3h0M922.4 195.9h0M929.5 194.3h0M978.5 185.2h0M970.0 164.1h0M989.1 180.3h0M920.2 178.9h0M1105.9 116.8h0M888.8 193.4h0M920.5 181.1h0M967.7 186.4h0M828.7 218.2h0M919.8 188.3h0M1015.9 151.4h0M953.2 174.6h0M961.4 179.0h0M875.5 189.4h0M989.6 170.7h0M888.6 201.0h0M946.9 181.9h0M955.4 162.7h0M1005.2 153.4h0M877.9 199.0h0M959.9 142.6h0M940.5 185.8h0M1092.7 131.3h0M984.8 166.7h0M940.9 175.1h0M971.8 179.1h0M903.9 195.8h0M949.0 202.2h0M973.4 164.0h0M929.6 163.0h0M969.1 152.7h0M998.8 167.6h0M920.7 201.3h0M900.3 202.7h0M921.9 205.5h0M957.1 173.5h0M978.6 175.7h0M988.1 156.6h0M1018.7 165.6h0M963.6 186.2h0M925.4 190.9h0M1036.4 152.4h0M1030.8 139.3h0M1008.3 181.6h0M946.8 170.3h0M999.6 151.6h0M880.4 188.1h0M1012.6 162.7h0M1007.7 168.4h0M908.1 186.4h0M1007.2 179.8h0M950.3 172.1h0M903.7 203.3h0M951.3 174.7h0M1017.1 168.4h0M848.7 187.5h0M959.4 171.8h0M971.8 164.1h0M980.5 160.9h0M945.2 176.6h0M973.3 170.9h0M1008.8 153.5h0M1012.6 150.6h0"/><path id="c48" d="M924.4 179.3h0M950.0 170.1h0M958.4 180.5h0M904.7 195.5h0M938.2 183.8h0M907.8 195.7h0M855.1 221.8h0M980.6 184.0h0M907.5 174.2h0M965.8 171.8h0M946.5 174.5h0M997.4 173.1h0M922.4 204.5h0M904.2 195.4h0M966.3 178.5h0M928.6 184.3h0M983.7 153.9h0M1062.6 137.8h0M968.5 169.0h0M972.2 183.0h0M824.4 234.0h0M1005.9 158.7h0M991.5 182.6h0M998.5 161.1h0M1006.1 170.3h0M997.6 158.3h0M930.8 183.9h0M939.0 194.8h0M996.7 164.7h0M942.8 196.7h0M976.7 171.9h0M926.1 200.1h0M889.2 207.6h0M1011.5 144.1h0M890.8 190.4h0M985.4 174.6h0M921.7 191.5h0M975.3 170.6h0M972.9 170.3h0M1009.6 168.8h0M867.4 208.1h0M936.8 175.1h0M973.1 164.4h0M1076.4 138.1h0M996.6 142.6h0M904.2 185.7h0M952.1 148.6h0M974.4 158.2h0M948.1 164.9h0M952.9 176.5h0M928.0 198.6h0M965.3 143.4h0M982.7 169.7h0M959.0 175.2h0M1039.8 138.4h0M996.0 161.0h0M1064.3 156.2h0M954.5 190.8h0M993.3 142.4h0M930.1 188.6h0M909.9 184.5h0M1087.3 120.6h0M970.0 177.3h0M935.7 167.8h0M1005.7 154.6h0M946.3 197.0h0M962.0 174.1h0M1034.7 160.5h0M946.4 179.7h0M930.2 172.5h0M920.5 184.2h0M1018.0 161.6h0M949.5 156.4h0M902.5 186.6h0M828.4 208.6h0M990.5 180.4h0M929.2 171.1h0M926.2 196.1h0M1006.9 171.4h0M1074.7 143.4h0M956.2 159.9h0M983.7 154.6h0M963.1 173.4h0"/><path id="c49" d="M1069.9 123.7h0M948.4 191.1h0M963.6 195.0h0M910.9 200.6h0M859.6 205.3h0M912.6 200.1h0M1033.9 156.7h0M915.2 180.8h0M946.6 179.2h0M1014.5 146.8h0M1020.1 160.2h0M848.1 200.6h0M964.2 197.4h0M934.1 187.4h0M952.4 164.4h0M936.2 179.7h0M963.1 165.7h0M1024.3 134.5h0M920.2 186.6h0M995.0 155.0h0M922.5 188.3h0M956.5 185.9h0M924.3 177.1h0M941.3 186.1h0M957.8 178.3h0M953.8 182.8h0M1020.5 148.6h0M928.1 174.4h0M923.2 176.0h0M882.7 199.4h0M1021.6 157.1h0M1070.0 142.9h0M893.0 202.7h0M1032.5 150.5h0M1075.1 125.4h0M993.3 165.5h0M1066.0 146.8h0M900.1 190.6h0M922.6 183.1h0M901.4 201.5h0M997.6 160.7h0M841.8 222.2h0M893.7 207.9h0M993.6 148.0h0M880.4 185.5h0M841.0 207.8h0M993.6 149.7h0M993.4 149.4h0M981.1 148.7h0M945.0 178.8h0M961.9 156.0h0M935.8 178.5h0M960.8 167.7h0M1014.0 163.2h0M977.1 157.1h0M964.2 170.8h0M979.6 155.2h0M878.4 199.8h0M998.4 150.2h0M932.7 198.7h0M1039.6 132.9h0M976.8 156.3h0M808.9 232.6h0M962.0 166.7h0M994.4 146.5h0M825.0 220.9h0M912.8 191.4h0M847.8 215.7h0M952.3 166.0h0M872.0 181.5h0M888.7 201.7h0M936.1 189.7h0M974.3 181.6h0M1069.5 123.2h0M952.5 167.2h0M959.1 154.3h0M996.4 149.6h0M977.1 152.1h0M893.3 202.4h0M1036.0 128.3h0M882.2 206.5h0M965.5 170.2h0M993.3 184.7h0"/><path id="c50" d="M1001.7 143.6h0M998.4 158.1h0M918.3 162.5h0M970.5 164.9h0M1046.1 146.0h0M931.9 180.6h0M992.6 153.1h0M920.0 201.0h0M929.5 174.2h0M917.2 180.6h0M909.5 204.0h0M994.8 160.7h0M931.1 205.4h0M913.4 195.8h0M896.8 181.3h0M1021.0 169.8h0M962.4 183.6h0M896.3 222.2h0M1022.6 141.6h0M1009.1 170.8h0M934.5 191.3h0M1002.3 145.1h0M994.0 163.9h0M1003.8 143.0h0M950.2 175.2h0M813.5 227.3h0M938.0 196.0h0M913.7 199.7h0M1007.7 162.5h0M886.7 199.8h0M960.3 173.9h0M1032.9 153.7h0M1010.1 158.3h0M896.4 203.8h0M919.5 185.3h0M990.4 181.3h0M854.7 220.6h0M905.2 188.9h0M916.7 198.9h0M997.1 156.7h0M1007.4 167.0h0M983.2 158.2h0M1031.6 150.2h0M911.6 188.7h0M1085.4 124.7h0M931.0 191.7h0M951.6 191.5h0M1057.3 125.7h0M958.2 161.4h0M879.6 207.4h0M1071.7 136.3h0M961.4 172.1h0M1051.2 155.3h0M1024.0 147.7h0M986.6 177.4h0M893.5 193.8h0M970.4 167.8h0M858.8 200.2h0M911.3 207.3h0M980.6 160.3h0M911.1 192.7h0M970.9 156.2h0M924.4 194.4h0M865.3 204.7h0M975.2 155.3h0M999.1 174.9h0M934.9 199.9h0M975.8 174.2h0M960.2 182.2h0M986.5 161.2h0M931.9 202.1h0M945.7 157.0h0M1017.4 152.9h0M926.1 188.2h0M1064.3 136.7h0M967.8 179.7h0M1008.5 154.7h0M875.8 207.5h0M914.5 203.0h0M909.3 204.3h0M960.2 180.1h0M976.3 155.3h0M990.8 190.1h0"/><path id="c51" d="M893.6 209.7h0M988.3 159.0h0M984.7 148.9h0M916.6 188.4h0M1012.8 161.0h0M975.8 172.2h0M1033.7 163.0h0M991.8 162.4h0M972.6 177.4h0M956.6 181.0h0M912.7 198.7h0M949.0 189.0h0M1041.8 129.7h0M1002.9 171.3h0M958.5 166.1h0M971.5 159.0h0M943.9 161.3h0M1007.6 159.3h0M916.6 185.9h0M932.4 179.8h0M905.5 176.8h0M872.1 223.3h0M991.2 170.9h0M975.7 161.5h0M912.5 205.9h0M959.4 171.4h0M942.9 171.2h0M956.5 155.6h0M858.2 235.5h0M896.0 207.2h0M1025.5 164.2h0M984.5 169.6h0M922.1 192.0h0M885.1 204.4h0M838.1 217.7h0M985.4 150.6h0M980.7 155.2h0M965.0 178.2h0M1051.1 154.8h0M982.8 171.2h0M965.0 158.0h0M1051.8 155.0h0M937.0 183.0h0M1004.1 178.6h0M1025.5 159.5h0M907.1 198.3h0M921.1 188.5h0M979.4 192.3h0M1040.3 140.4h0M933.1 179.9h0M836.5 216.0h0M961.1 158.4h0M993.1 154.3h0M971.4 160.8h0M937.7 198.4h0M982.2 171.9h0M925.6 179.2h0M978.9 170.9h0M895.4 214.9h0M982.2 181.2h0M1073.9 146.0h0M1015.1 157.0h0M956.6 148.0h0M958.3 180.3h0M868.9 195.3h0M1001.3 145.1h0M954.5 184.9h0M921.2 202.7h0M978.8 165.3h0M934.5 172.2h0M961.6 175.1h0M997.6 170.3h0M1001.1 131.0h0M1022.4 174.8h0M1004.2 149.5h0M924.7 180.2h0M957.3 166.3h0M957.6 169.4h0M1001.4 157.5h0M1036.6 147.3h0M994.1 159.7h0M973.6 167.4h0M944.5 205.5h0"/><path id="c52" d="M963.8 178.0h0M902.8 209.0h0M930.0 170.3h0M979.3 161.3h0M1010.2 157.6h0M948.4 180.7h0M938.6 189.2h0M918.1 198.2h0M959.4 190.4h0M1000.0 183.7h0M971.0 170.0h0M983.6 174.7h0M852.2 230.4h0M896.5 214.6h0M1008.0 169.4h0M1008.4 152.6h0M860.1 221.1h0M1023.5 148.6h0M834.5 213.7h0M1010.6 162.3h0M970.6 188.6h0M1020.7 133.6h0M861.5 203.0h0M975.1 150.4h0M909.8 181.6h0M899.3 201.1h0M972.2 150.9h0M1024.7 168.4h0M997.8 147.0h0M939.8 171.7h0M1006.3 169.6h0M956.7 181.9h0M955.8 168.6h0M979.0 168.4h0M952.8 194.0h0M1043.3 141.7h0M977.9 166.5h0M942.1 168.0h0M944.3 176.8h0M868.5 231.7h0M1051.5 149.3h0M854.6 219.1h0M942.9 184.8h0M913.1 167.9h0M947.9 193.3h0M923.8 179.2h0M968.1 184.7h0M1008.2 165.5h0M1011.7 170.2h0M1070.7 143.0h0M963.3 176.0h0M941.1 185.3h0M989.3 155.8h0M894.1 180.3h0M848.9 209.2h0M965.6 163.9h0M918.1 190.9h0M1002.1 150.9h0M963.9 182.0h0M1002.2 152.7h0M962.5 151.8h0M960.7 172.9h0M1012.9 151.4h0M1025.3 166.7h0M979.6 170.2h0M909.2 165.3h0M970.2 177.5h0M882.1 175.6h0M1050.9 156.7h0M982.9 178.6h0M908.3 208.5h0M930.9 169.8h0M1021.9 150.6h0M1061.6 141.2h0M1036.1 147.5h0M940.6 182.5h0M1060.6 135.8h0M1038.6 147.1h0M935.7 188.2h0M1023.2 151.2h0M927.5 176.7h0M941.0 175.2h0M1009.0 157.8h0"/><path id="c53" d="M991.4 173.8h0M955.3 160.6h0M951.8 173.3h0M978.4 158.7h0M996.5 174.5h0M971.5 159.9h0M943.4 199.7h0M983.5 171.1h0M884.7 193.0h0M991.9 139.6h0M921.0 210.1h0M997.3 151.0h0M922.8 181.2h0M933.0 163.4h0M906.4 163.5h0M1025.9 154.7h0M947.3 170.2h0M918.6 174.4h0M919.4 183.2h0M1024.3 166.0h0M1025.3 160.7h0M926.5 192.9h0M942.5 186.9h0M993.1 150.7h0M904.4 193.8h0M934.5 179.0h0M1019.1 152.5h0M901.4 189.0h0M946.6 190.8h0M980.1 146.3h0M999.1 154.2h0M1080.3 132.7h0M994.3 163.9h0M923.7 182.1h0M952.0 169.6h0M986.6 144.8h0M927.8 186.7h0M901.1 188.0h0M943.7 197.6h0M907.7 191.3h0M1062.8 130.0h0M1024.2 152.7h0M794.9 221.4h0M877.9 192.3h0M895.6 195.8h0M944.6 175.3h0M906.7 210.6h0M926.7 186.3h0M913.6 175.2h0M901.6 203.1h0M983.6 170.1h0M921.2 186.7h0M947.5 155.2h0M923.6 180.5h0M917.2 180.5h0M984.2 173.3h0M1040.3 155.8h0M1003.9 157.5h0M965.3 170.2h0M967.5 176.5h0M911.0 186.7h0M956.3 173.0h0M943.1 180.8h0M1075.3 137.2h0M903.4 192.0h0M849.6 205.1h0M869.0 194.4h0M925.7 190.9h0M857.6 204.3h0M900.6 180.7h0M974.8 174.7h0M948.4 176.7h0M989.1 173.4h0M904.5 212.4h0M962.0 166.4h0M1001.4 163.5h0M872.2 208.5h0M1030.2 139.2h0M927.3 175.1h0M1000.8 184.3h0M1021.8 157.3h0M934.4 185.2h0M947.2 180.5h0"/><path id="c54" d="M949.3 176.3h0M961.6 172.6h0M898.7 183.3h0M1071.2 171.8h0M965.8 163.9h0M976.0 163.3h0M897.7 174.2h0M906.2 190.1h0M963.4 170.2h0M1018.7 143.9h0M996.9 160.9h0M940.9 184.6h0M930.6 167.4h0M958.1 171.6h0M946.4 191.2h0M992.1 175.5h0M837.5 212.1h0M907.2 203.0h0M849.1 211.7h0M1022.3 170.5h0M933.0 180.7h0M994.0 145.9h0M982.6 188.5h0M927.8 176.8h0M937.9 180.0h0M1046.8 147.7h0M835.0 231.5h0M1043.6 159.3h0M1004.2 160.2h0M833.2 202.1h0M987.4 156.0h0M977.5 151.5h0M1004.5 159.6h0M829.1 223.3h0M1065.2 135.5h0M1006.9 168.4h0M967.9 161.2h0M981.0 157.5h0M1040.4 157.6h0M931.4 209.3h0M893.3 207.0h0M928.4 200.1h0M1014.8 169.3h0M1103.4 137.6h0M980.6 170.9h0M891.2 205.9h0M957.1 173.1h0M999.0 166.0h0M921.8 173.6h0M866.8 205.5h0M901.7 196.9h0M1078.9 142.6h0M881.8 206.7h0M910.4 198.0h0M898.2 206.4h0M1022.0 161.9h0M898.4 185.3h0M888.8 186.4h0M912.6 184.2h0M880.9 204.1h0M1013.9 149.6h0M902.0 186.8h0M945.9 167.9h0M1025.6 153.8h0M1101.2 134.0h0M896.8 209.9h0M873.6 184.7h0M947.6 186.8h0M962.1 166.6h0M939.9 171.3h0M1059.4 123.0h0M1051.3 127.1h0M931.0 176.5h0M972.5 183.5h0M877.4 180.6h0M1051.4 132.2h0M944.1 157.0h0M931.6 186.8h0M985.9 152.9h0M978.9 183.0h0M1030.0 151.2h0M961.1 173.1h0M993.6 164.0h0"/><path id="c55" d="M997.3 145.3h0M901.6 189.2h0M892.7 182.2h0M883.0 196.3h0M971.6 151.2h0M943.2 170.0h0M1099.4 115.8h0M892.9 197.6h0M885.7 193.1h0M981.6 164.0h0M974.0 169.5h0M866.6 204.7h0M996.2 167.1h0M905.8 188.9h0M996.3 162.4h0M1084.7 129.5h0M980.2 153.2h0M953.7 171.5h0M957.5 170.9h0M1036.2 143.2h0M897.2 189.0h0M969.7 171.9h0M928.1 176.4h0M937.4 180.7h0M936.2 178.7h0M896.4 221.5h0M912.8 175.1h0M1006.2 156.9h0M908.7 206.5h0M1001.1 175.9h0M981.6 173.5h0M954.9 177.6h0M941.1 164.6h0M1004.2 159.1h0M941.0 195.0h0M990.7 177.0h0M1008.0 166.6h0M945.2 184.3h0M1019.6 148.3h0M914.5 169.8h0M1016.8 152.6h0M1089.0 131.2h0M1004.8 163.0h0M977.6 171.9h0M856.7 215.3h0M898.5 192.0h0M924.4 159.7h0M968.1 156.5h0M1035.0 139.7h0M974.8 177.6h0M884.2 224.4h0M972.3 169.4h0M954.8 168.4h0M950.0 174.4h0M980.1 170.8h0M1015.5 151.7h0M909.4 201.1h0M1016.8 153.2h0M967.5 175.5h0M989.0 151.8h0M1052.9 136.6h0M1014.3 160.7h0M923.2 161.1h0M997.5 149.7h0M947.9 146.7h0M1010.7 158.7h0M943.1 185.2h0M1016.6 146.1h0M920.2 160.3h0M1016.9 140.2h0M927.3 179.1h0M1039.0 154.2h0M1018.0 143.3h0M937.3 169.6h0M894.5 183.0h0M944.9 169.1h0M1051.4 142.6h0M938.7 191.3h0M968.1 169.8h0M971.1 180.4h0M936.6 174.2h0M907.1 169.2h0M907.4 188.6h0"/><path id="c56" d="M956.0 167.9h0M974.0 179.2h0M1033.2 138.2h0M1008.6 178.0h0M945.8 159.8h0M957.5 192.5h0M950.0 172.3h0M858.6 212.1h0M925.7 185.8h0M942.7 176.1h0M908.9 183.9h0M980.0 160.1h0M993.1 144.9h0M907.0 168.0h0M900.8 209.5h0M914.2 173.1h0M919.7 182.8h0M871.5 193.1h0M1018.0 145.3h0M951.7 172.2h0M1071.4 126.1h0M817.3 237.0h0M841.9 221.3h0M864.9 218.3h0M1000.6 140.9h0M899.7 196.0h0M902.7 197.0h0M934.7 194.1h0M925.6 197.9h0M894.6 182.2h0M972.5 186.3h0M976.4 170.5h0M962.1 170.3h0M968.3 162.1h0M959.0 173.7h0M1058.4 138.5h0M968.1 165.1h0M1015.9 145.2h0M989.1 172.2h0M894.6 189.2h0M984.0 170.7h0M983.7 160.8h0M1003.7 168.4h0M999.1 170.5h0M916.8 191.5h0M954.2 176.3h0M1107.3 108.0h0M934.2 190.2h0M976.7 159.6h0M992.5 148.4h0M1078.6 128.6h0M926.3 189.2h0M912.9 207.4h0M862.1 200.4h0M965.0 180.4h0M982.1 172.7h0M954.3 166.4h0M930.3 185.8h0M995.2 180.1h0M942.7 179.0h0M880.7 184.7h0M900.7 181.9h0M996.3 149.3h0M962.6 187.2h0M970.1 173.6h0M901.1 193.7h0M985.8 161.6h0M875.9 203.2h0M1023.9 143.1h0M950.1 170.0h0M961.7 164.7h0M991.7 157.4h0M929.9 174.0h0M984.8 158.9h0M995.6 168.8h0M865.9 207.7h0M933.8 194.2h0M1033.3 169.8h0M1018.7 157.7h0M909.9 181.0h0M1037.8 142.6h0M890.4 210.4h0M965.3 174.6h0"/><path id="c57" d="M996.4 173.4h0M912.4 188.9h0M931.8 173.2h0M954.8 174.0h0M948.5 163.7h0M971.1 164.2h0M1047.1 142.6h0M1062.2 116.0h0M943.5 175.9h0M979.6 173.3h0M963.7 176.6h0M918.9 186.4h0M1036.5 128.0h0M933.5 183.7h0M969.7 155.7h0M1004.2 165.9h0M920.3 174.8h0M1040.7 151.3h0M995.4 152.8h0M950.1 168.4h0M934.8 178.9h0M918.1 187.6h0M944.1 191.1h0M935.4 175.0h0M937.7 181.5h0M1041.2 153.8h0M898.3 227.7h0M1002.8 159.5h0M1083.2 138.7h0M901.0 191.7h0M972.1 144.9h0M976.5 173.2h0M914.2 188.0h0M933.4 179.7h0M992.4 155.7h0M855.1 227.8h0M982.7 167.0h0M959.4 186.9h0M937.7 192.3h0M1000.4 154.4h0M982.7 157.3h0M949.3 191.6h0M1013.6 150.5h0M990.7 163.3h0M1000.9 177.8h0M966.1 160.2h0M1004.7 158.7h0M954.4 162.3h0M946.9 177.5h0M985.2 178.1h0M939.2 179.9h0M888.0 191.9h0M1012.1 160.9h0M965.9 156.8h0M915.5 201.2h0M976.8 171.0h0M936.2 199.8h0M981.1 161.6h0M972.2 167.9h0M943.9 200.6h0M1045.5 134.6h0M987.9 161.4h0M935.0 198.7h0M926.7 169.5h0M896.5 189.4h0M934.4 180.7h0M979.5 164.8h0M1017.6 140.4h0M936.4 177.5h0M994.1 157.8h0M1033.7 142.7h0M971.9 166.0h0M923.0 207.5h0M974.1 175.9h0M1009.2 165.9h0M1027.0 160.9h0M868.7 208.7h0M1055.9 144.5h0M1001.2 156.4h0M929.4 172.7h0M1055.8 128.1h0M1031.3 149.6h0M982.6 177.7h0"/><path id="c58" d="M1038.9 150.8h0M1013.2 152.8h0M975.8 178.9h0M958.9 184.2h0M962.7 183.9h0M955.1 182.3h0M924.0 190.7h0M942.1 180.0h0M845.4 218.0h0M904.5 203.7h0M940.3 179.5h0M941.5 197.3h0M873.0 192.5h0M844.0 206.2h0M901.3 188.3h0M942.2 191.2h0M947.6 177.7h0M827.2 238.8h0M886.0 204.1h0M1005.1 138.3h0M891.8 172.6h0M971.8 167.0h0M1001.1 175.8h0M881.4 200.0h0M948.8 182.1h0M966.3 181.5h0M911.4 192.9h0M879.0 202.9h0M914.0 180.2h0M997.0 162.7h0M1014.2 144.3h0M1037.4 120.9h0M1055.9 142.6h0M1076.1 110.6h0M1047.0 146.6h0M1030.3 148.5h0M997.8 171.9h0M943.2 176.5h0M1089.3 144.1h0M946.5 186.8h0M1011.2 160.8h0M1020.6 144.3h0M1052.8 148.0h0M1059.5 136.8h0M963.8 157.2h0M923.6 195.4h0M913.7 193.6h0M956.3 169.1h0M1025.0 158.1h0M898.0 195.2h0M1074.2 146.0h0M919.7 188.6h0M958.0 173.3h0M995.3 184.9h0M938.3 195.1h0M899.2 216.4h0M1067.4 148.1h0M982.6 158.2h0M902.5 187.1h0M878.0 196.2h0M944.2 172.1h0M881.5 187.8h0M926.5 186.6h0M950.9 177.2h0M933.3 168.2h0M971.8 158.3h0M1008.9 166.7h0M1070.8 140.4h0M984.8 150.6h0M988.8 148.3h0M923.5 182.1h0M903.8 194.8h0M1040.8 144.2h0M1063.6 146.0h0M916.2 190.6h0M990.0 140.0h0M1034.0 165.5h0M874.5 214.9h0M925.4 183.9h0M998.4 153.7h0M985.0 162.3h0M946.5 184.7h0M916.3 205.7h0"/><path id="c59" d="M922.5 174.9h0M970.3 174.1h0M957.8 169.9h0M879.9 199.6h0M1042.9 129.5h0M987.4 173.9h0M968.7 175.6h0M973.1 180.5h0M964.7 167.2h0M869.4 208.0h0M1010.1 165.6h0M926.4 178.2h0M1001.0 134.0h0M880.1 200.1h0M1022.2 143.0h0M1061.9 134.8h0M974.7 157.5h0M898.7 197.6h0M917.7 207.1h0M884.4 195.9h0M972.8 175.4h0M1045.3 140.2h0M1046.7 143.0h0M951.7 169.9h0M892.6 177.7h0M1047.0 140.9h0M912.2 183.5h0M864.3 211.1h0M920.8 178.1h0M955.6 182.5h0M931.5 180.0h0M958.6 157.2h0M995.5 161.9h0M967.3 148.4h0M956.2 167.1h0M945.3 187.1h0M847.8 203.8h0M966.7 201.5h0M981.3 166.5h0M980.9 180.3h0M920.1 197.2h0M988.7 170.5h0M957.2 174.5h0M975.3 166.5h0M932.7 195.2h0M987.1 155.7h0M904.8 190.3h0M970.2 186.8h0M938.3 169.2h0M1014.7 163.0h0M989.2 164.6h0M999.3 167.1h0M1051.4 138.9h0M951.6 172.6h0M1046.0 143.7h0M952.3 168.1h0M829.4 233.1h0M915.5 186.3h0M843.4 213.3h0M928.1 216.9h0M1041.5 138.7h0M1020.1 149.0h0M918.8 192.7h0M993.4 150.1h0M888.6 213.5h0M1027.1 141.3h0M1031.3 169.7h0M992.6 159.6h0M937.8 192.7h0M940.2 187.9h0M912.4 179.0h0M987.8 160.9h0M1000.0 183.5h0M989.0 164.8h0M941.7 182.0h0M994.4 146.0h0M987.1 163.8h0M933.6 175.8h0M950.7 189.8h0M965.7 168.5h0M905.4 201.6h0M958.4 162.9h0M936.9 203.4h0"/></defs><g fill="none" stroke-linecap="round"><use href="#c0" stroke="#e65b38" stroke-width="5.5"/><use href="#c0" stroke="#fff" stroke-width="2.5"/><use href="#c1" stroke="#e65b38" stroke-width="5.5"/><use href="#c1" stroke="#fff" stroke-width="2.5"/><use href="#c2" stroke="#e65b38" stroke-width="5.5"/><use href="#c2" stroke="#fff" stroke-width="2.5"/><use href="#c3" stroke="#e65b38" stroke-width="5.5"/><use href="#c3" stroke="#fff" stroke-width="2.5"/><use href="#c4" stroke="#e65b38" stroke-width="5.5"/><use href="#c4" stroke="#fff" stroke-width="2.5"/><use href="#c5" stroke="#e65b38" stroke-width="5.5"/><use href="#c5" stroke="#fff" stroke-width="2.5"/><use href="#c6" stroke="#e65b38" stroke-width="5.5"/><use href="#c6" stroke="#fff" stroke-width="2.5"/><use href="#c7" stroke="#e65b38" stroke-width="5.5"/><use href="#c7" stroke="#fff" stroke-width="2.5"/><use href="#c8" stroke="#e65b38" stroke-width="5.5"/><use href="#c8" stroke="#fff" stroke-width="2.5"/><use href="#c9" stroke="#e65b38" stroke-width="5.5"/><use href="#c9" stroke="#fff" stroke-width="2.5"/><use href="#c10" stroke="#e65b38" stroke-width="5.5"/><use href="#c10" stroke="#fff" stroke-width="2.5"/><use href="#c11" stroke="#e65b38" stroke-width="5.5"/><use href="#c11" stroke="#fff" stroke-width="2.5"/><use href="#c12" stroke="#e65b38" stroke-width="5.5"/><use href="#c12" stroke="#fff" stroke-width="2.5"/><use href="#c13" stroke="#e65b38" stroke-width="5.5"/><use href="#c13" stroke="#fff" stroke-width="2.5"/><use href="#c14" stroke="#e65b38" stroke-width="5.5"/><use href="#c14" stroke="#fff" stroke-width="2.5"/><use href="#c15" stroke="#e65b38" stroke-width="5.5"/><use href="#c15" stroke="#fff" stroke-width="2.5"/><use href="#c16" stroke="#e65b38" stroke-width="5.5"/><use href="#c16" stroke="#fff" stroke-width="2.5"/><use href="#c17" stroke="#e65b38" stroke-width="5.5"/><use href="#c17" stroke="#fff" stroke-width="2.5"/><use href="#c18" stroke="#e65b38" stroke-width="5.5"/><use href="#c18" stroke="#fff" stroke-width="2.5"/><use href="#c19" stroke="#e65b38" stroke-width="5.5"/><use href="#c19" stroke="#fff" stroke-width="2.5"/><use href="#c20" stroke="#e65b38" stroke-width="5.5"/><use href="#c20" stroke="#fff" stroke-width="2.5"/><use href="#c21" stroke="#e65b38" stroke-width="5.5"/><use href="#c21" stroke="#fff" stroke-width="2.5"/><use href="#c22" stroke="#e65b38" stroke-width="5.5"/><use href="#c22" stroke="#fff" stroke-width="2.5"/><use href="#c23" stroke="#e65b38" stroke-width="5.5"/><use href="#c23" stroke="#fff" stroke-width="2.5"/><use href="#c24" stroke="#e65b38" stroke-width="5.5"/><use href="#c24" stroke="#fff" stroke-width="2.5"/><use href="#c25" stroke="#e65b38" stroke-width="5.5"/><use href="#c25" stroke="#fff" stroke-width="2.5"/><use href="#c26" stroke="#e65b38" stroke-width="5.5"/><use href="#c26" stroke="#fff" stroke-width="2.5"/><use href="#c27" stroke="#e65b38" stroke-width="5.5"/><use href="#c27" stroke="#fff" stroke-width="2.5"/><use href="#c28" stroke="#e65b38" stroke-width="5.5"/><use href="#c28" stroke="#fff" stroke-width="2.5"/><use href="#c29" stroke="#e65b38" stroke-width="5.5"/><use href="#c29" stroke="#fff" stroke-width="2.5"/><use href="#c30" stroke="#e65b38" stroke-width="5.5"/><use href="#c30" stroke="#fff" stroke-width="2.5"/><use href="#c31" stroke="#e65b38" stroke-width="5.5"/><use href="#c31" stroke="#fff" stroke-width="2.5"/><use href="#c32" stroke="#e65b38" stroke-width="5.5"/><use href="#c32" stroke="#fff" stroke-width="2.5"/><use href="#c33" stroke="#e65b38" stroke-width="5.5"/><use href="#c33" stroke="#fff" stroke-width="2.5"/><use href="#c34" stroke="#e65b38" stroke-width="5.5"/><use href="#c34" stroke="#fff" stroke-width="2.5"/><use href="#c35" stroke="#e65b38" stroke-width="5.5"/><use href="#c35" stroke="#fff" stroke-width="2.5"/><use href="#c36" stroke="#e65b38" stroke-width="5.5"/><use href="#c36" stroke="#fff" stroke-width="2.5"/><use href="#c37" stroke="#e65b38" stroke-width="5.5"/><use href="#c37" stroke="#fff" stroke-width="2.5"/><use href="#c38" stroke="#e65b38" stroke-width="5.5"/><use href="#c38" stroke="#fff" stroke-width="2.5"/><use href="#c39" stroke="#e65b38" stroke-width="5.5"/><use href="#c39" stroke="#fff" stroke-width="2.5"/><use href="#c40" stroke="#e65b38" stroke-width="5.5"/><use href="#c40" stroke="#fff" stroke-width="2.5"/><use href="#c41" stroke="#e65b38" stroke-width="5.5"/><use href="#c41" stroke="#fff" stroke-width="2.5"/><use href="#c42" stroke="#e65b38" stroke-width="5.5"/><use href="#c42" stroke="#fff" stroke-width="2.5"/><use href="#c43" stroke="#e65b38" stroke-width="5.5"/><use href="#c43" stroke="#fff" stroke-width="2.5"/><use href="#c44" stroke="#e65b38" stroke-width="5.5"/><use href="#c44" stroke="#fff" stroke-width="2.5"/><use href="#c45" stroke="#e65b38" stroke-width="5.5"/><use href="#c45" stroke="#fff" stroke-width="2.5"/><use href="#c46" stroke="#e65b38" stroke-width="5.5"/><use href="#c46" stroke="#fff" stroke-width="2.5"/><use href="#c47" stroke="#e65b38" stroke-width="5.5"/><use href="#c47" stroke="#fff" stroke-width="2.5"/><use href="#c48" stroke="#e65b38" stroke-width="5.5"/><use href="#c48" stroke="#fff" stroke-width="2.5"/><use href="#c49" stroke="#e65b38" stroke-width="5.5"/><use href="#c49" stroke="#fff" stroke-width="2.5"/><use href="#c50" stroke="#e65b38" stroke-width="5.5"/><use href="#c50" stroke="#fff" stroke-width="2.5"/><use href="#c51" stroke="#e65b38" stroke-width="5.5"/><use href="#c51" stroke="#fff" stroke-width="2.5"/><use href="#c52" stroke="#e65b38" stroke-width="5.5"/><use href="#c52" stroke="#fff" stroke-width="2.5"/><use href="#c53" stroke="#e65b38" stroke-width="5.5"/><use href="#c53" stroke="#fff" stroke-width="2.5"/><use href="#c54" stroke="#e65b38" stroke-width="5.5"/><use href="#c54" stroke="#fff" stroke-width="2.5"/><use href="#c55" stroke="#e65b38" stroke-width="5.5"/><use href="#c55" stroke="#fff" stroke-width="2.5"/><use href="#c56" stroke="#e65b38" stroke-width="5.5"/><use href="#c56" stroke="#fff" stroke-width="2.5"/><use href="#c57" stroke="#e65b38" stroke-width="5.5"/><use href="#c57" stroke="#fff" stroke-width="2.5"/><use href="#c58" stroke="#e65b38" stroke-width="5.5"/><use href="#c58" stroke="#fff" stroke-width="2.5"/><use href="#c59" stroke="#e65b38" stroke-width="5.5"/><use href="#c59" stroke="#fff" stroke-width="2.5"/></g>
 <g fill="#fff" font-family="Liberation Mono" font-size="9" text-anchor="end" transform="translate(1 0)">
  <text x="745" y="119.5">2<tspan font-size="7.6">M</tspan></text><text x="745" y="156.5">1.5<tspan font-size="7.6">M</tspan></text><text x="745" y="194">1<tspan font-size="7.6">M</tspan></text><text x="745" y="231">0.5<tspan font-size="7.6">M</tspan></text><text x="745" y="268.5">0</text>
 </g>
 <g fill="#fff" font-family="Liberation Mono" font-size="9" text-anchor="middle">
  <text x="767.5" y="292">0</text><text x="845.5" y="292">0.5<tspan font-size="7.6">M</tspan></text><text x="923.5" y="292">1<tspan font-size="7.6">M</tspan></text><text x="1001.5" y="292">1.5<tspan font-size="7.6">M</tspan></text><text x="1079.5" y="292">2<tspan font-size="7.6">M</tspan></text><text x="1157.5" y="292">2.5<tspan font-size="7.6">M</tspan></text>
  <text x="962" y="314.6" font-size="10.2" stroke="#fff" stroke-width=".2">actual price</text>
  <text transform="translate(716.5 183) rotate(-90)" font-size="10.2" stroke="#fff" stroke-width=".2">predicted price</text>
 </g>
 <path d="M805.5 243.5v10.2l2.3-2.2 1.6 3.5 1.3-.6-1.5-3.4h3.3z" fill="#f4f4f4" stroke="#2a3f5a" stroke-width=".8" stroke-linejoin="round"/>
</svg>

<!-- table panel -->
<div class="abs btn" style="left:183px;top:339px;width:47px">Copy</div>
<div class="abs btn" style="left:236.7px;top:339px;width:40.6px">CSV</div>
<div class="abs btn" style="left:284.2px;top:339px;width:46.6px">Excel</div>
<div class="abs btn" style="left:337.3px;top:339px;width:45.6px">Print</div>
<div class="abs" style="left:386.9px;top:342px;font-size:11.5px;font-weight:bold;color:#222;line-height:14px">Show</div>
<div class="abs" style="left:421.6px;top:338.8px;width:51.5px;height:18.7px;border:1px solid #d6d6d6;border-radius:2px;background:#fcfcfc"></div>
<div class="abs" style="left:425.6px;top:342px;font-size:12.2px;color:#222;line-height:14px;-webkit-text-stroke:.35px #222">20</div>
<svg class="abs" style="left:461px;top:345px" width="10" height="8"><path d="M1 .8h5.6l-2.8 5z" fill="#222"/></svg>
<div class="abs" style="left:476.9px;top:342px;font-size:12.2px;font-weight:bold;color:#222;line-height:14px">entries</div>

<div class="abs" style="left:183px;top:371px;width:474px;height:30px;background:#6589b5"></div>
<div class="abs" style="left:183px;top:401px;width:474px;height:2px;background:#2f3b48"></div>
<div class="abs th" style="left:223.7px;top:380.4px">actual price</div>
<div class="abs th" style="left:384px;top:380.4px">predicted price</div>
<div class="abs th" style="left:562.5px;top:380.4px">residuals</div>
<svg class="abs" style="left:0;top:0" width="1200" height="609">
 <g fill="#cfd6df">
  <path d="M327.5 386h7l-3.5-5.5zM327.5 387.5h7l-3.5 5.5z"/>
  <path d="M512 386h7l-3.5-5.5zM512 387.5h7l-3.5 5.5z"/>
  <path d="M645.5 386h7l-3.5-5.5zM645.5 387.5h7l-3.5 5.5z"/>
 </g>
</svg>
<div class="abs row" style="top:402.5px;height:27.5px"></div>
<div class="abs cell" style="left:261px;top:410.5px">$1,059,033.56</div>
<div class="abs cell" style="left:431.5px;top:410.5px">$1,219,875.61</div>
<div class="abs cell" style="left:591px;top:410.5px">-$160,842.05</div>
<div class="abs row" style="top:430px;height:28.6px"></div>
<div class="abs cell" style="left:261px;top:438.0px">$1,505,890.92</div>
<div class="abs cell" style="left:431.5px;top:438.0px">$1,526,151.76</div>
<div class="abs cell" style="left:591px;top:438.0px">-$20,260.85</div>
<div class="abs row" style="top:458.6px;height:28.6px"></div>
<div class="abs cell" style="left:261px;top:466.6px">$1,058,987.99</div>
<div class="abs cell" style="left:431.5px;top:466.6px">$1,068,148.81</div>
<div class="abs cell" style="left:591px;top:466.6px">-$9,160.82</div>
<div class="abs row" style="top:487.2px;height:28.6px"></div>
<div class="abs cell" style="left:261px;top:495.2px">$1,260,616.81</div>
<div class="abs cell" style="left:431.5px;top:495.2px">$1,290,693.54</div>
<div class="abs cell" style="left:591px;top:495.2px">-$30,076.73</div>
<div class="abs row" style="top:515.8px;height:28.5px"></div>
<div class="abs cell" style="left:261px;top:523.8px">$630,943.49</div>
<div class="abs cell" style="left:431.5px;top:523.8px">$744,182.85</div>
<div class="abs cell" style="left:591px;top:523.8px">-$113,239.36</div>
<div class="abs row" style="top:544.3px;height:28.5px"></div>
<div class="abs cell" style="left:261px;top:552.3px">$1,068,138.07</div>
<div class="abs cell" style="left:431.5px;top:552.3px">$1,174,883.12</div>
<div class="abs cell" style="left:591px;top:552.3px">-$106,745.05</div>
<div class="abs row" style="top:572.8px;height:28.2px"></div>
<div class="abs cell" style="left:261px;top:580.8px">$1,502,055.82</div>
<div class="abs cell" style="left:431.5px;top:580.8px">$1,531,957.47</div>
<div class="abs cell" style="left:591px;top:580.8px">-$29,901.66</div>
<div class="abs sb" style="left:658px;top:403px;width:15px;height:198px"></div>
<div class="abs thumb" style="left:659px;top:417.5px;width:13px;height:98.5px"></div>
<svg class="abs" style="left:658px;top:403px" width="15" height="15"><path d="M4 10h7.5l-3.75-4z" fill="#a3a3a3"/></svg>

<!-- histogram -->
<div class="abs plot" style="left:695px;top:339px;width:491px;height:255px"></div>
<svg class="abs" style="left:0;top:0" width="1200" height="609">
 <g stroke="#7192bb" stroke-width="1" fill="none" shape-rendering="crispEdges">
  <path d="M747 380.5H1177M747 416.5H1177M747 452.5H1177M747 488.5H1177M747 524.5H1177"/>
 </g>
 <path d="M746 560H768M1155 560H1163M1170 560H1178" stroke="#fff" stroke-width="2"/>
 <g fill="#e65e3a" stroke="#fff" stroke-width="1"><rect x="767.85" y="557.84" width="7.59" height="2.16"/><rect x="775.44" y="558.56" width="7.59" height="1.44"/><rect x="783.03" y="556.40" width="7.59" height="3.60"/><rect x="790.62" y="554.96" width="7.59" height="5.04"/><rect x="798.21" y="552.80" width="7.59" height="7.20"/><rect x="805.80" y="552.80" width="7.59" height="7.20"/><rect x="813.39" y="549.20" width="7.59" height="10.80"/><rect x="820.98" y="546.32" width="7.59" height="13.68"/><rect x="828.57" y="543.44" width="7.59" height="16.56"/><rect x="836.16" y="528.32" width="7.59" height="31.68"/><rect x="843.75" y="526.88" width="7.59" height="33.12"/><rect x="851.34" y="517.52" width="7.59" height="42.48"/><rect x="858.93" y="507.44" width="7.59" height="52.56"/><rect x="866.52" y="494.48" width="7.59" height="65.52"/><rect x="874.11" y="490.88" width="7.59" height="69.12"/><rect x="881.70" y="465.68" width="7.59" height="94.32"/><rect x="889.29" y="452.00" width="7.59" height="108.00"/><rect x="896.88" y="445.52" width="7.59" height="114.48"/><rect x="904.47" y="432.56" width="7.59" height="127.44"/><rect x="912.06" y="422.48" width="7.59" height="137.52"/><rect x="919.65" y="382.88" width="7.59" height="177.12"/><rect x="927.24" y="403.76" width="7.59" height="156.24"/><rect x="934.83" y="398.00" width="7.59" height="162.00"/><rect x="942.42" y="384.32" width="7.59" height="175.68"/><rect x="950.01" y="388.64" width="7.59" height="171.36"/><rect x="957.60" y="369.20" width="7.59" height="190.80"/><rect x="965.19" y="369.20" width="7.59" height="190.80"/><rect x="972.78" y="392.96" width="7.59" height="167.04"/><rect x="980.37" y="387.20" width="7.59" height="172.80"/><rect x="987.96" y="431.84" width="7.59" height="128.16"/><rect x="995.55" y="412.40" width="7.59" height="147.60"/><rect x="1003.14" y="434.72" width="7.59" height="125.28"/><rect x="1010.73" y="452.00" width="7.59" height="108.00"/><rect x="1018.32" y="451.28" width="7.59" height="108.72"/><rect x="1025.91" y="463.52" width="7.59" height="96.48"/><rect x="1033.50" y="490.16" width="7.59" height="69.84"/><rect x="1041.09" y="492.32" width="7.59" height="67.68"/><rect x="1048.68" y="508.88" width="7.59" height="51.12"/><rect x="1056.27" y="518.96" width="7.59" height="41.04"/><rect x="1063.86" y="524.00" width="7.59" height="36.00"/><rect x="1071.45" y="532.64" width="7.59" height="27.36"/><rect x="1079.04" y="534.80" width="7.59" height="25.20"/><rect x="1086.63" y="549.20" width="7.59" height="10.80"/><rect x="1094.22" y="549.20" width="7.59" height="10.80"/><rect x="1101.81" y="549.20" width="7.59" height="10.80"/><rect x="1109.40" y="555.68" width="7.59" height="4.32"/><rect x="1116.99" y="556.40" width="7.59" height="3.60"/><rect x="1124.58" y="557.12" width="7.59" height="2.88"/><rect x="1132.17" y="559.28" width="7.59" height="0.72"/><rect x="1139.76" y="557.84" width="7.59" height="2.16"/></g>
 <g fill="#fff" font-family="Liberation Sans" font-size="9.5" text-anchor="end" stroke="#fff" stroke-width=".25">
  <text x="745.5" y="384">250</text><text x="745.5" y="420">200</text><text x="745.5" y="456">150</text><text x="745.5" y="492">100</text><text x="745.5" y="528">50</text><text x="745.5" y="564">0</text>
 </g>
 <g fill="#fff" font-family="Liberation Sans" font-size="9.5" text-anchor="middle" stroke="#fff" stroke-width=".25">
  <text x="806" y="571">−400k</text><text x="881.7" y="571">−200k</text><text x="957.7" y="571">0</text><text x="1033.3" y="571">200k</text><text x="1108.3" y="571">400k</text>
  <text x="961" y="592.8" font-family="Liberation Mono" font-size="9.9" stroke="#fff" stroke-width=".3">residual</text>
  <text transform="translate(716.8 459.7) rotate(-90)" font-size="11.6" letter-spacing=".25" stroke="none">frequency</text>
 </g>
 <g fill="#5d81aa" stroke="none" opacity="1">
 <path d="M896.5 345.5h3l1-1.5h5l1 1.5h3v9.5h-13z M903 347.2a3.2 3.2 0 1 0 .01 0z" fill-rule="evenodd"/>
 <path d="M944 350h13M950.5 343.5v13" stroke="#5d81aa" stroke-width="1.6"/>
 <path d="M944 350l2.5-2v4zM957 350l-2.5-2v4zM950.5 343.5l-2 2.5h4zM950.5 356.5l-2-2.5h4z"/>
 <rect x="963.5" y="343.5" width="13" height="13" fill="none" stroke="#5d81aa" stroke-width="1.4" stroke-dasharray="1.6 1.6"/>
 <path d="M990 344c4 0 6.5 2 6.5 4.5s-2.5 4.5-6.5 4.5c-1 0-1.5 0-2.2-.3l-1.3 3.3-.3-4c-1.7-.8-2.7-2-2.7-3.5 0-2.5 2.5-4.5 6.5-4.5z" fill="none" stroke="#5d81aa" stroke-width="1.3"/>
 <path d="M1012 344h12v12h-12z M1016.8 347h2.4v2.8h2.8v2.4h-2.8v2.8h-2.4v-2.8h-2.8v-2.4h2.8z" fill-rule="evenodd" fill="#5f83ac"/>
 <path d="M1032 344h12v12h-12z M1034.5 348.8h7v2.4h-7z" fill-rule="evenodd" fill="#5f83ac"/>
 <path d="M1051 345v-2h3M1061 343h3v2M1064 355v2h-3M1054 357h-3v-2M1053 345l9 10M1062 345l-9 10" fill="none" stroke="#5d81aa" stroke-width="1.3"/>
 <path d="M1077.5 343.5l7 6.5h-2v6h-3.5v-4h-3v4h-3.5v-6h-2z"/>
 <path d="M1098 344.5h4M1104 344.5h1.5M1105 347v1.5M1105 350.5v1.5M1105 354v1.5" stroke="#5d81aa" stroke-width="1.4"/>
 <path d="M1119 350l4-4h10v8h-10z" fill="#4e6c91"/>
 <path d="M1139 346.5l2-2h12v4h-12z M1139 353.5l2-2h12v4h-12z" fill="#53749b"/>
</g>
<g>
 <circle cx="930" cy="349" r="4.2" fill="none" stroke="#3d4f66" stroke-width="1.8"/>
 <path d="M933 352l3.5 3.5" stroke="#3d4f66" stroke-width="2.2" stroke-linecap="round"/>
 <rect x="929" y="347" width="2" height="4" fill="#3d4f66"/>
 <rect x="1167" y="343" width="13.6" height="13" fill="#3f8ad3"/>
 <path d="M1170 354.5v-3M1172.5 354.5v-5M1175 354.5v-3.5M1177.5 354.5v-6" stroke="#fff" stroke-width="1.2"/>
 <path d="M1170 346h1M1172.5 346h1M1175 346h1M1177.5 346h1" stroke="#cfe3f7" stroke-width=".8"/>
</g>
</svg>
</body></html>
